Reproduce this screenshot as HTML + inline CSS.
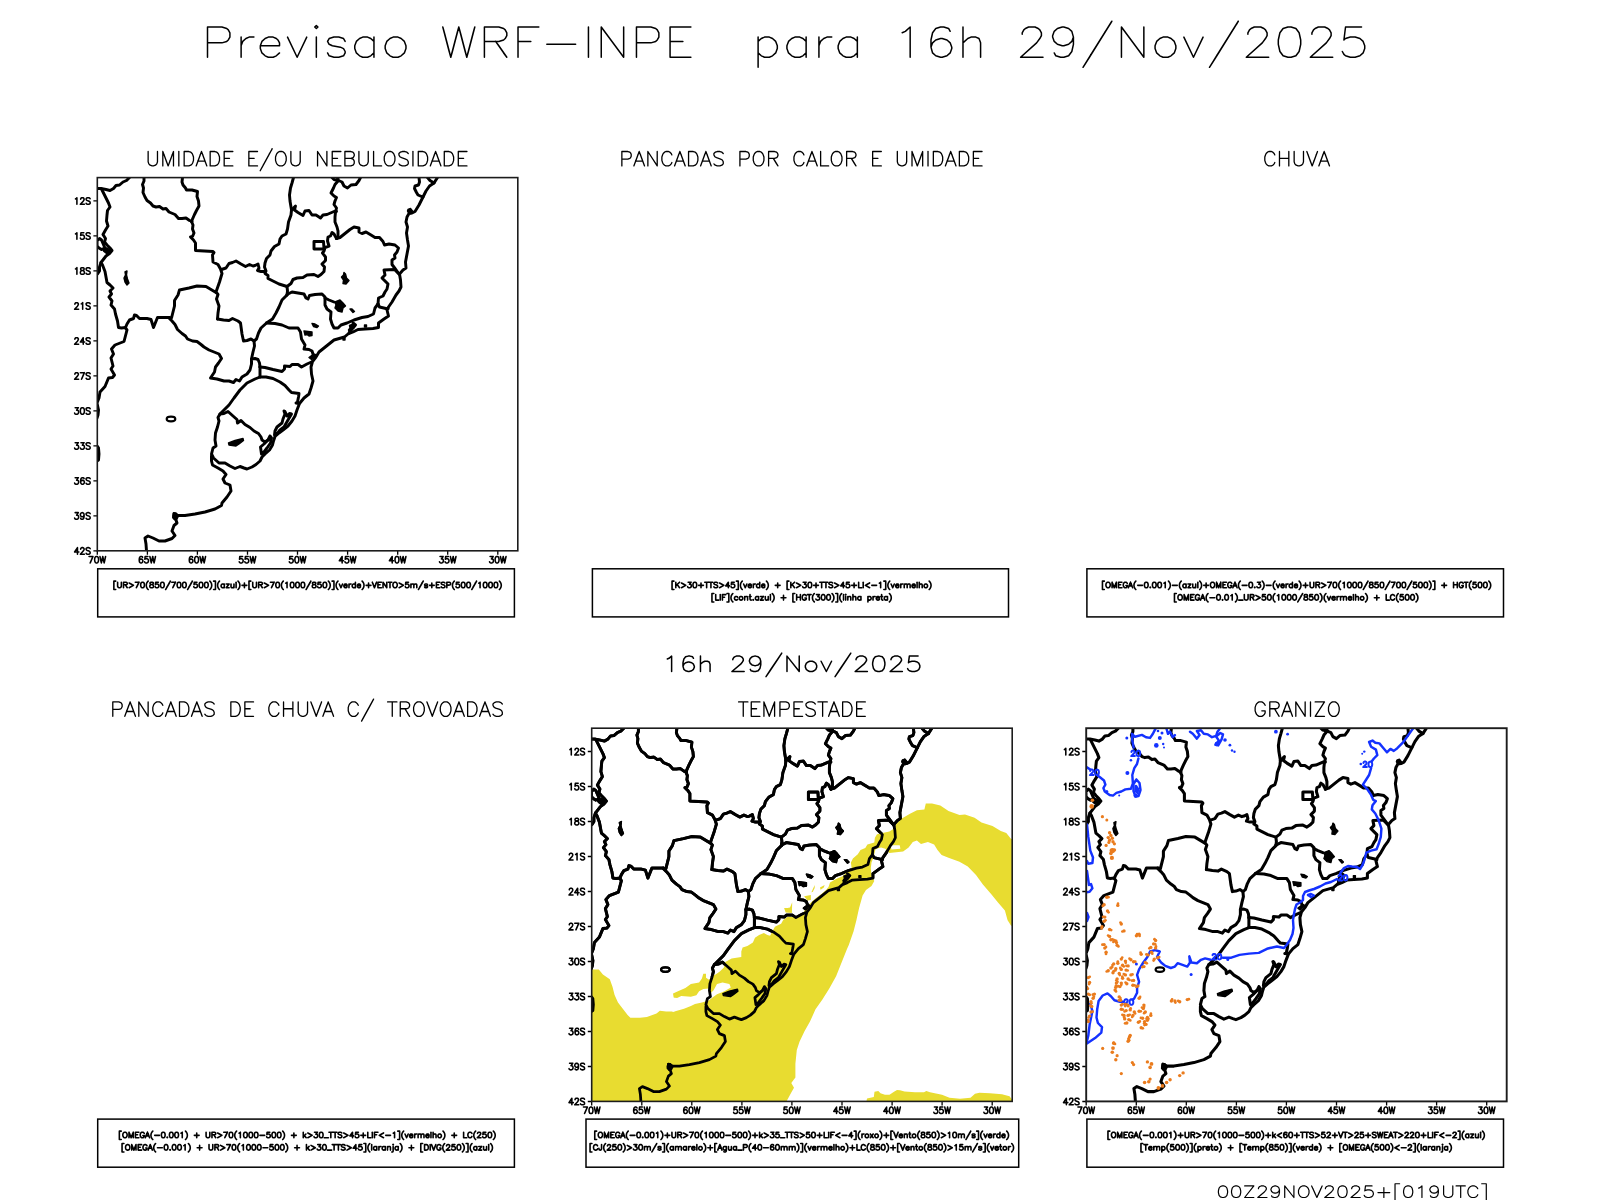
<!DOCTYPE html>
<html><head><meta charset="utf-8"><title>Previsao WRF-INPE</title>
<style>
html,body{margin:0;padding:0;background:#fff;font-family:"Liberation Sans",sans-serif}
svg{display:block}
.ht{fill:none;stroke-linecap:round;stroke-linejoin:round}
defs path{vector-effect:non-scaling-stroke}
</style></head><body>
<svg width="1600" height="1200" viewBox="0 0 1600 1200">
<defs>
<clipPath id="clip1"><rect x="97.3" y="177.6" width="420.5" height="373.2"/></clipPath>
<g id="map" fill="none" stroke="#000" stroke-linejoin="round" stroke-linecap="round">
<polyline points="96.5,188.5 101,188.5 106,189.5 110,190.5 113.5,188.5 116,185.5 119.5,185 123,182 126.5,180.5 129.5,177.5"/>
<polyline points="101.5,189 105,196 108.5,203 110,207 107.5,210.5 107,215 106.5,221 108,226 105.5,230 103,234.5 105.5,238.5 104.5,242 107,245 110,248 112,250.5 109.5,253.5 106,256 101,262.5 102.5,265 105,271.5 106,277 107,282.5 110,285 113,288 110,291 111.5,294 109,297 112,301 111,305 114.5,309 115.5,314 117.5,321 118.5,327.5 121.5,328 125.5,327.5"/>
<polyline points="101,262.5 99.5,267 99.5,271 97.5,274 96.5,274.5"/>
<polyline points="144,177.5 144,181 142.5,184.5 143.5,188 143,192.5 145,197 147,200.5 150.5,203 153,206 156,207 159.5,206.5 163,209 166,208.5 169,212 175,214.5 178.5,218.5 182,218.5 186,218 189.5,220.5 192,221.5"/>
<polyline points="182.5,177.5 182,182 183,185 185.5,188 186.5,190 192,190 197.5,191.5 197,196.5 198.5,201 199,206 196.5,210.5 194.5,214.5 192.5,219 191.5,221.5"/>
<polyline points="191.5,221.5 193,225 192.5,229 194,233 192.5,236.5 190.5,237 193.5,240 195.5,243 195.5,250.5 213,251.5 214,252.5 212.5,255 213,262 218,264.5 220.5,269 222,273.5 219.5,282 216,292 218,294.5 216.5,299 219,306 218,313 217.5,319"/>
<polyline points="221.5,269.5 226,268 229,263.5 232.5,262.5 236,261 241,264 245.5,266.5 249.5,264.5 253,266 255,265.5 258,264 259,268 257.5,270.5 261,271.5 264.5,271.5"/>
<polyline points="216,292.5 206,286.5 197,286 189,288 179.5,290 178,295 174.5,300.5 174.5,306 171.5,318 169,317.5"/>
<polyline points="293.5,177.5 292,183 290.5,188 289.5,195 290,201 291,207 291.5,210 291,215 288.5,222 287.5,229 286,234 282,236 280,239 279,244 274.5,246.5 271,251 270,255 266.5,258.5 265,263 264.5,267 266,271 265,273.5 268,275.5 268,278.5 273,281 279,284 287,286.5"/>
<polyline points="291.5,210 295.5,206 294.5,210 298,212.5 303,215.5 305,211 309,210.5 312,215 316,215 320.5,218 323,215 327,214.5 334,211.5 336.5,211.5"/>
<polyline points="332,177.5 334,179.5 338,180.5 338,177.5"/>
<polyline points="338,181 335,184.5 333.5,188 331,193 334,196 336.5,197.5 335,201 334,204.5 336.5,208 335.5,212 335,217 335,222 337,227 338,231 338,236 336.5,238.5"/>
<polyline points="338.5,180.5 342,182 344,186 347.5,188 351,185 356,184.5 359,180.5 360.5,177.5"/>
<polyline points="336.5,238.5 334,234 332,232.5 330.5,236 328,237 327.5,241 329,246 325,247.5 324,251 322.5,253 325.5,257 325.5,260.5 322,264 324.5,267 324,271.5 321,274.5 318,276.5 314,274.5 307,275 303,277.5 297,278 293,279.5 291,283.5 287,286.5 287.5,291 287,295"/>
<polyline points="314,241.5 323.5,241.5 324,249 314,249 314,241.5"/>
<polyline points="336.5,238.5 340,237.5 345,233.5 350,229.5 354,227 359,228 359,232 362,233.5 366,232 371,235 375,237.5 379.5,237.5 383,241.5 384.5,245 389,244 395,245 398.5,248 397,252 394.5,255 395,258 392,260 392,264.5 395,268.5 399,274"/>
<polyline points="399,274 394.5,269.5 384,270 385,275 382,278 385,281 388,284 387,289 385,292 383,296 378.5,298 378,304"/>
<polyline points="378,304 379.5,307 388,309"/>
<polyline points="437.5,177.5 434,183 429.5,186 426,191 423,197 419,205 415,211.5 412,213 409,213.5 407,217 406,222 407.5,227 406.5,233 407.5,240 408.5,246 407,254 405.5,262 406,268 403,270 399.5,274 400.5,280 401,287 399,291 396,295 392,302 388.5,307 387,310 388.5,316 384,319 378.5,323 378.5,327.5 373,328.5 365,329 358,329.5 353,332 348,334 344.5,337 341,338 334,340 329,344 324,348 319,352 316,357 312.5,361.5 311,367 311.5,374 313,381 311,388 309,394 304,398 299.5,403.5 297,410 295,416 292,421 288,426 283,430 279,433 275,436.5 273.5,441 272.5,445 269.5,450 265,454 262,457 260,461 256,464.5 252,467 247,469 244,468 240,466.5 235,468.5 230,466 225,463 219,463 213.5,458 211.5,454 213,448 216,446 215,440 215.5,433 217.5,427 219,421 218,417.5 220,414 224,410 229,405 234,398 240,390 247,383 255,379 260,377"/>
<polyline points="419,177.5 419.5,182 418.5,185 415,186 414.5,188.5 416.5,192.5 418,195 421.5,196.5 423,197"/>
<polyline points="427.5,177.5 430,180.5 434,183"/>
<polyline points="125.5,328 127,330 124,341.5 115,345 111.5,349 113.5,354 111,358 113,366 111,369 114.5,375 112.5,377.5 108.5,378 105,386.5 100,392 99,398 97,403 98.5,410 98,415 97,418"/>
<polyline points="97,446 98.5,448 99,454 98.5,460 97,461"/>
<polyline points="125.5,327.5 127,324 129.5,320 133.5,318.5 134.5,315 136.5,315.5 139.5,318.5 147,318.5 151,319.5 153.5,327.5 157.5,317.5 169,317.5"/>
<polyline points="169,318 172,321 175,324.5 177.5,329.5 182,333.5 185.5,336 187.5,339 192.5,341 197,341.5 201,344.5 204,347 209,350 214,352 219,354 221.5,358.5 218.5,363 215.5,367 214.5,372 210.5,378 217,379 224,381 229,381 233.5,382.5 236,379.5 239.5,381 242,377 247,374 250,370 251.5,364 251.5,359 255,358.5 258,359.5 259.5,363 260,367"/>
<polyline points="217.5,319 223.5,320 229,320.5 232.5,318.5 238,321 240.5,323 242,334 243.5,341 247,340.5 251,339 254,341 254.5,346 253,352 251.5,359"/>
<polyline points="287,295 282,300 279,307 276,313 272.5,319 266.5,323 261,328 258.5,333 256.5,339 254,341"/>
<polyline points="287,294.5 292,292 298,293 304,294 306,298 308,299 309.5,295.5 315,294.5 322,294 325,297 325,305 327,309 331,312 330.5,319 332,324 334,328 338,328 341,325 347,323 354,320 362,317.5 368,316.5 373.5,314 375,308 378,304"/>
<polyline points="325,298 329,300 334,302"/>
<polyline points="353,323 355.5,325 352,329 349,333"/>
<polyline points="266.5,323 275,323.5 282,325 289,328 298,328 300.5,332 301.5,339 305,345 304,349 309,349.5 312,351 313,354 316,356"/>
<polyline points="260,367 265,367.5 273,369.5 282,371.5 284.5,369 284.5,366 290,366.5 292,364.5 298,364.5 301.5,367 307,364 311.5,362"/>
<polyline points="260,367 260,377"/>
<polyline points="260,377 266,377 273,378.5 280,382 285,385.5 289,390 291.5,392.5 299,393.5 298.5,397 297.5,402 296,403 299,403.5"/>
<polyline points="220,414 224,413.5 228,411.5 233,416 237,419.5 237.5,423 241,420.5 245,424.5 250,427.5 254,431 258.5,433.5 261,437 262,440 265,442 268,440"/>
<polyline points="211.5,456 211.5,461 212.5,465 218,468 223,471 226,474.5 223,479 225,483 230,485 231,491 227,497 222,503 221.5,505.5 215,509 205,512 195,514 185,515.5 178,515.5 174,513.5 173.5,517.5 176,520 177,523 174,525.5 172,531 175,535.5 172,538.5 165,541 159,541 153,538 148,536 145,538 146,544 146.5,551"/>
<polyline points="284,411 285,414 283,419 282,423 277,427 275,431 274.5,435 277,434 280,430 284,427 288,420 291.5,414 289.5,413.5 287,416 285,411.5"/>
<polyline points="270,436 268,440 264,444 260.5,447 261.5,454 264,452 267,448 270.5,443 271.5,438 270,436"/>
<polyline points="101.5,249.5 99,248 97,246 97,241 99.5,238.5 101.5,240 103,243.5 104.5,247"/>
<ellipse cx="171" cy="419" rx="4.3" ry="2.3" style="stroke-width:2.2"/>
<g fill="#000" style="stroke-width:1.4">
<polygon points="102,248.5 105,247.5 108,248.5 111,250.5 109.5,253 106.5,253.5 104,251.5"/>
<polygon points="125,272 127,271 126.5,275 127.5,279 129,283 127,285 125,282 124,278 125.5,275"/>
<polygon points="344,272.5 345.5,274 346.5,278 349,280.5 346,284 343,283.5 343.5,280 341.5,277 343.5,275"/>
<polygon points="335,302 340,300 343,303 345.5,306 343,308 342,312 338,311 335,308 336,305"/>
<polygon points="350,309 352,309 354.5,311.5 353,312.5"/>
<polygon points="312,323.5 315,324 318.5,326 317,327.5 313.5,326.5"/>
<polygon points="304,331 312,332 312,335.5 309,336 307,334.5 305,335"/>
<polygon points="228.5,443 235,440.5 243,438.5 243.5,440.5 239,444 236,446 229,445"/>
<polygon points="173.5,513 176,513 178.5,516 177,519 174.5,519.5 173,516"/>
<polygon points="408,209.5 410.5,208.5 412.5,211 411,213.5 408.5,213 407.5,211"/>
<polygon points="349.5,325.5 352,324.5 355.5,325.5 354,328 351,330 349.5,332.5 348.5,330 350,328"/>
<polygon points="309,357.5 313,354.5 315,355.5 311.5,359.5"/>
<polygon points="364.5,325 366.5,325 366.5,327 364.5,327"/>
<polygon points="343,338 345,338 345,340 343,340"/>
</g></g>
<path id="h40" d="M11 -25 9 -23 7 -20 5 -16 4 -11 4 -7 5 -2 7 2 9 5 11 7"/>
<path id="h41" d="M3 -25 5 -23 7 -20 9 -16 10 -11 10 -7 9 -2 7 2 5 5 3 7"/>
<path id="h43" d="M4 -9 22 -9M13 -18 13 0"/>
<path id="h45" d="M4 -9 22 -9"/>
<path id="h46" d="M4 -1 5 -2 6 -1 5 0 4 -1"/>
<path id="h47" d="M2 7 6 0 7 -2 2 7 15 -16 6 0 16 -18 2 7 20 -25 6 0M7 -2 15 -16 16 -18 7 -2 20 -25 15 -16M10 -7 11 -9M16 -18 20 -25 19 -23"/>
<path id="h48" d="M3 -12 3 -9 4 -4 6 -1 9 0 11 0 14 -1 16 -4 17 -9 17 -12 16 -17 14 -20 11 -21 9 -21 6 -20 4 -17 3 -12"/>
<path id="h49" d="M6 -17 8 -18 11 -21 11 0"/>
<path id="h50" d="M4 -16 4 -17 5 -19 6 -20 8 -21 12 -21 14 -20 15 -19 16 -17 16 -15 15 -13 13 -10 3 0 17 0"/>
<path id="h51" d="M3 -4 4 -2 5 -1 8 0 11 0 14 -1 16 -3 17 -6 17 -8 16 -11 15 -12 13 -13 10 -13 16 -21 5 -21"/>
<path id="h52" d="M13 0 13 -21 3 -7 18 -7"/>
<path id="h53" d="M3 -4 4 -2 5 -1 8 0 11 0 14 -1 16 -3 17 -6 17 -8 16 -11 14 -13 11 -14 8 -14 5 -13 4 -12 5 -21 15 -21"/>
<path id="h54" d="M4 -7 4 -12 5 -17 7 -20 10 -21 12 -21 15 -20 16 -18M4 -7 5 -10 7 -12 10 -13 11 -13 14 -12 16 -10 17 -7 17 -6 16 -3 14 -1 11 0 10 0 7 -1 5 -3 4 -7"/>
<path id="h55" d="M3 -21 17 -21 7 0 9 -4 15 -17 7 0 16 -19 8 -2 15 -17M8 -2 17 -21 9 -4 16 -19 17 -21"/>
<path id="h56" d="M3 -7 3 -4 4 -2 5 -1 8 0 12 0 15 -1 16 -2 17 -4 17 -7 16 -9 14 -11 11 -12 7 -13 5 -14 4 -16 4 -18 5 -20 8 -21 12 -21 15 -20 16 -18 16 -16 15 -14 13 -13 9 -12 6 -11 4 -9 3 -7"/>
<path id="h57" d="M4 -3 5 -1 8 0 10 0 13 -1 15 -4 16 -9 16 -14 15 -18 13 -20 10 -21 9 -21 6 -20 4 -18 3 -15 3 -14 4 -11 6 -9 9 -8 10 -8 13 -9 15 -11 16 -14"/>
<path id="h60" d="M11 -13 4 -9 11 -5 13 -4 4 -9 13 -14 11 -13 20 -18 4 -9 20 0 11 -5M13 -14 20 -18 18 -17M13 -4 20 0 18 -1"/>
<path id="h62" d="M4 -18 11 -14 13 -13 4 -18 20 -9 4 0 11 -4 13 -5 4 0M11 -14 20 -9 11 -4M13 -13 20 -9 13 -5M18 -10 20 -9 18 -8"/>
<path id="h65" d="M1 0 4 -8 3 -5 7 -16 6 -13 1 0 9 -21 3 -5M4 -7 14 -7M6 -13 4 -8 9 -21 12 -13 11 -16 15 -5 14 -8 9 -21 17 0 11 -16M14 -8 12 -13 17 0"/>
<path id="h66" d="M4 -11 13 -11 16 -12 17 -13 18 -15 18 -17 17 -19 16 -20 13 -21 4 -21 4 0 13 0 16 -1 17 -2 18 -4 18 -7 17 -9 16 -10 13 -11"/>
<path id="h67" d="M18 -16 17 -18 15 -20 13 -21 9 -21 7 -20 5 -18 4 -16 3 -13 3 -8 4 -5 5 -3 7 -1 9 0 13 0 15 -1 17 -3 18 -5"/>
<path id="h68" d="M4 -21 4 0 11 0 14 -1 16 -3 17 -5 18 -8 18 -13 17 -16 16 -18 14 -20 11 -21 4 -21"/>
<path id="h69" d="M4 -11 12 -11M17 -21 4 -21 4 0 17 0"/>
<path id="h70" d="M4 -11 12 -11M4 0 4 -21 17 -21"/>
<path id="h71" d="M13 -8 18 -8 18 -5 17 -3 15 -1 13 0 9 0 7 -1 5 -3 4 -5 3 -8 3 -13 4 -16 5 -18 7 -20 9 -21 13 -21 15 -20 17 -18 18 -16"/>
<path id="h72" d="M4 -21 4 0M4 -11 18 -11M18 -21 18 0"/>
<path id="h73" d="M4 -21 4 0"/>
<path id="h74" d="M2 -7 2 -5 3 -2 4 -1 6 0 8 0 10 -1 11 -2 12 -5 12 -21"/>
<path id="h75" d="M4 -21 4 0M4 -7 18 -21M9 -12 18 0"/>
<path id="h76" d="M4 -21 4 0 16 0"/>
<path id="h77" d="M4 0 4 -21 7 -13 6 -16 10 -5 9 -8 4 -21 12 0 6 -16M9 -8 7 -13 12 0 15 -8 14 -5 18 -16 17 -13 12 0 20 -21 14 -5M17 -13 15 -8 20 -21 20 0"/>
<path id="h78" d="M4 0 4 -21 18 0 18 -21"/>
<path id="h79" d="M3 -13 3 -8 4 -5 5 -3 7 -1 9 0 13 0 15 -1 17 -3 18 -5 19 -8 19 -13 18 -16 17 -18 15 -20 13 -21 9 -21 7 -20 5 -18 4 -16 3 -13"/>
<path id="h80" d="M4 -10 13 -10 16 -11 17 -12 18 -14 18 -17 17 -19 16 -20 13 -21 4 -21 4 0"/>
<path id="h82" d="M4 -11 13 -11 16 -12 17 -13 18 -15 18 -17 17 -19 16 -20 13 -21 4 -21 4 0M11 -11 13 -8 16 -3 11 -11 18 0 13 -8M16 -3 18 0"/>
<path id="h83" d="M3 -3 5 -1 8 0 12 0 15 -1 17 -3 17 -6 16 -8 15 -9 13 -10 7 -12 5 -13 4 -14 3 -16 3 -18 5 -20 8 -21 12 -21 15 -20 17 -18"/>
<path id="h84" d="M1 -21 15 -21M8 -21 8 0"/>
<path id="h85" d="M4 -21 4 -6 5 -3 7 -1 10 0 12 0 15 -1 17 -3 18 -6 18 -21"/>
<path id="h86" d="M1 -21 4 -13 3 -16 7 -5 6 -8 1 -21 9 0 3 -16M6 -8 4 -13 9 0 12 -8 11 -5 15 -16 14 -13 9 0 17 -21 11 -5M14 -13 12 -8 17 -21"/>
<path id="h87" d="M2 -21 3 -17 6 -4 2 -21 7 0 3 -17M6 -4 7 0 8 -4 11 -17 7 0 12 -21 8 -4M11 -17 12 -21 13 -17 16 -4 12 -21 17 0 13 -17M16 -4 17 0 18 -4 21 -17 17 0 22 -21 18 -4M21 -17 22 -21"/>
<path id="h90" d="M3 -21 17 -21 3 0 17 0"/>
<path id="h91" d="M11 -25 4 -25 4 7 11 7"/>
<path id="h93" d="M3 -25 10 -25 10 7 3 7"/>
<path id="h95" d="M1 0 17 0"/>
<path id="h97" d="M15 -14 15 0M15 -11 13 -13 11 -14 8 -14 6 -13 4 -11 3 -8 3 -6 4 -3 6 -1 8 0 11 0 13 -1 15 -3"/>
<path id="h99" d="M15 -11 13 -13 11 -14 8 -14 6 -13 4 -11 3 -8 3 -6 4 -3 6 -1 8 0 11 0 13 -1 15 -3"/>
<path id="h100" d="M15 -21 15 0M15 -11 13 -13 11 -14 8 -14 6 -13 4 -11 3 -8 3 -6 4 -3 6 -1 8 0 11 0 13 -1 15 -3"/>
<path id="h101" d="M3 -8 3 -6 4 -3 6 -1 8 0 11 0 13 -1 15 -3M3 -8 4 -11 6 -13 8 -14 11 -14 13 -13 14 -12 15 -10 15 -8 3 -8"/>
<path id="h103" d="M6 6 8 7 11 7 13 6 14 5 15 2 15 -14M15 -11 13 -13 11 -14 8 -14 6 -13 4 -11 3 -8 3 -6 4 -3 6 -1 8 0 11 0 13 -1 15 -3"/>
<path id="h104" d="M4 -21 4 0M4 -10 7 -13 9 -14 12 -14 14 -13 15 -10 15 0"/>
<path id="h105" d="M4 -14 4 0M3 -21 4 -22 5 -21 4 -20 3 -21"/>
<path id="h106" d="M1 7 3 7 5 6 6 3 6 -14M5 -21 6 -22 7 -21 6 -20 5 -21"/>
<path id="h107" d="M4 -21 4 0M4 -4 14 -14M8 -8 9 -7 14 -1 8 -8 15 0 14 -1"/>
<path id="h108" d="M4 -21 4 0"/>
<path id="h109" d="M4 -14 4 0M4 -10 7 -13 9 -14 12 -14 14 -13 15 -10 15 0M15 -10 18 -13 20 -14 23 -14 25 -13 26 -10 26 0"/>
<path id="h110" d="M4 -14 4 0M4 -10 7 -13 9 -14 12 -14 14 -13 15 -10 15 0"/>
<path id="h111" d="M3 -8 3 -6 4 -3 6 -1 8 0 11 0 13 -1 15 -3 16 -6 16 -8 15 -11 13 -13 11 -14 8 -14 6 -13 4 -11 3 -8"/>
<path id="h112" d="M4 -14 4 7M4 -11 6 -13 8 -14 11 -14 13 -13 15 -11 16 -8 16 -6 15 -3 13 -1 11 0 8 0 6 -1 4 -3"/>
<path id="h114" d="M4 -14 4 0M4 -8 5 -11 7 -13 9 -14 12 -14"/>
<path id="h115" d="M3 -3 4 -1 7 0 10 0 13 -1 14 -3 14 -4 13 -6 11 -7 6 -8 4 -9 3 -11 4 -13 7 -14 10 -14 13 -13 14 -11"/>
<path id="h116" d="M2 -14 9 -14M5 -21 5 -4 6 -1 8 0 10 0"/>
<path id="h117" d="M4 -14 4 -4 5 -1 7 0 10 0 12 -1 15 -4M15 -14 15 0"/>
<path id="h118" d="M2 -14 8 0 14 -14"/>
<path id="h120" d="M3 -14 7 -9 6 -10M3 -14 10 -5 7 -9 14 0 3 -14M3 0 7 -5 10 -9 3 0 14 -14 7 -5M10 -5 14 0M11 -10 10 -9 14 -14"/>
<path id="h122" d="M3 -14 14 -14 3 0 7 -5 10 -9 3 0 14 0M7 -5 14 -14 10 -9 11 -10"/>
</defs>
<rect width="1600" height="1200" fill="#fff"/>
<g class="ht" transform="translate(201.10 57.25) scale(1.6006 1.4400)" stroke="#000" stroke-width="1.50"><use href="#h80" x="0"/><use href="#h114" x="21"/><use href="#h101" x="34"/><use href="#h118" x="52"/><use href="#h105" x="68"/><use href="#h115" x="76"/><use href="#h97" x="93"/><use href="#h111" x="112"/><use href="#h87" x="149"/><use href="#h82" x="173"/><use href="#h70" x="194"/><use href="#h45" x="212"/><use href="#h73" x="238"/><use href="#h78" x="246"/><use href="#h80" x="268"/><use href="#h69" x="289"/><use href="#h112" x="344"/><use href="#h97" x="363"/><use href="#h114" x="382"/><use href="#h97" x="395"/><use href="#h49" x="432"/><use href="#h54" x="452"/><use href="#h104" x="472"/><use href="#h50" x="509"/><use href="#h57" x="529"/><use href="#h47" x="549"/><use href="#h78" x="571"/><use href="#h111" x="593"/><use href="#h118" x="612"/><use href="#h47" x="628"/><use href="#h50" x="650"/><use href="#h48" x="670"/><use href="#h50" x="690"/><use href="#h53" x="710"/></g>
<g class="ht" transform="translate(662.01 671.50) scale(0.8740 0.7330)" stroke="#000" stroke-width="1.50"><use href="#h49" x="0"/><use href="#h54" x="20"/><use href="#h104" x="40"/><use href="#h50" x="77"/><use href="#h57" x="97"/><use href="#h47" x="117"/><use href="#h78" x="139"/><use href="#h111" x="161"/><use href="#h118" x="180"/><use href="#h47" x="196"/><use href="#h50" x="218"/><use href="#h48" x="238"/><use href="#h50" x="258"/><use href="#h53" x="278"/></g>
<g class="ht" transform="translate(1216.43 1197.50) scale(0.6566 0.5500)" stroke="#000" stroke-width="1.20"><use href="#h48" x="0"/><use href="#h48" x="20"/><use href="#h90" x="40"/><use href="#h50" x="60"/><use href="#h57" x="80"/><use href="#h78" x="100"/><use href="#h79" x="122"/><use href="#h86" x="144"/><use href="#h50" x="162"/><use href="#h48" x="182"/><use href="#h50" x="202"/><use href="#h53" x="222"/><use href="#h43" x="242"/><use href="#h91" x="268"/><use href="#h48" x="282"/><use href="#h49" x="302"/><use href="#h57" x="322"/><use href="#h85" x="342"/><use href="#h84" x="364"/><use href="#h67" x="380"/><use href="#h93" x="401"/></g>
<g class="ht" transform="translate(145.47 165.90) scale(0.6670 0.6850)" stroke="#000" stroke-width="1.30"><use href="#h85" x="0"/><use href="#h77" x="22"/><use href="#h73" x="46"/><use href="#h68" x="54"/><use href="#h65" x="75"/><use href="#h68" x="93"/><use href="#h69" x="114"/><use href="#h69" x="151"/><use href="#h47" x="170"/><use href="#h79" x="192"/><use href="#h85" x="214"/><use href="#h78" x="254"/><use href="#h69" x="276"/><use href="#h66" x="295"/><use href="#h85" x="316"/><use href="#h76" x="338"/><use href="#h79" x="355"/><use href="#h83" x="377"/><use href="#h73" x="397"/><use href="#h68" x="405"/><use href="#h65" x="426"/><use href="#h68" x="444"/><use href="#h69" x="465"/></g>
<g class="ht" transform="translate(619.19 165.90) scale(0.6670 0.6850)" stroke="#000" stroke-width="1.30"><use href="#h80" x="0"/><use href="#h65" x="21"/><use href="#h78" x="39"/><use href="#h67" x="61"/><use href="#h65" x="82"/><use href="#h68" x="100"/><use href="#h65" x="121"/><use href="#h83" x="139"/><use href="#h80" x="177"/><use href="#h79" x="198"/><use href="#h82" x="220"/><use href="#h67" x="259"/><use href="#h65" x="280"/><use href="#h76" x="298"/><use href="#h79" x="315"/><use href="#h82" x="337"/><use href="#h69" x="376"/><use href="#h85" x="413"/><use href="#h77" x="435"/><use href="#h73" x="459"/><use href="#h68" x="467"/><use href="#h65" x="488"/><use href="#h68" x="506"/><use href="#h69" x="527"/></g>
<g class="ht" transform="translate(1262.80 165.90) scale(0.6670 0.6850)" stroke="#000" stroke-width="1.30"><use href="#h67" x="0"/><use href="#h72" x="21"/><use href="#h85" x="43"/><use href="#h86" x="65"/><use href="#h65" x="83"/></g>
<g class="ht" transform="translate(110.12 716.30) scale(0.6670 0.6850)" stroke="#000" stroke-width="1.30"><use href="#h80" x="0"/><use href="#h65" x="21"/><use href="#h78" x="39"/><use href="#h67" x="61"/><use href="#h65" x="82"/><use href="#h68" x="100"/><use href="#h65" x="121"/><use href="#h83" x="139"/><use href="#h68" x="177"/><use href="#h69" x="198"/><use href="#h67" x="235"/><use href="#h72" x="256"/><use href="#h85" x="278"/><use href="#h86" x="300"/><use href="#h65" x="318"/><use href="#h67" x="354"/><use href="#h47" x="375"/><use href="#h84" x="415"/><use href="#h82" x="431"/><use href="#h79" x="452"/><use href="#h86" x="474"/><use href="#h79" x="492"/><use href="#h65" x="514"/><use href="#h68" x="532"/><use href="#h65" x="553"/><use href="#h83" x="571"/></g>
<g class="ht" transform="translate(737.92 716.30) scale(0.6670 0.6850)" stroke="#000" stroke-width="1.30"><use href="#h84" x="0"/><use href="#h69" x="16"/><use href="#h77" x="35"/><use href="#h80" x="59"/><use href="#h69" x="80"/><use href="#h83" x="99"/><use href="#h84" x="119"/><use href="#h65" x="135"/><use href="#h68" x="153"/><use href="#h69" x="174"/></g>
<g class="ht" transform="translate(1253.13 716.30) scale(0.6670 0.6850)" stroke="#000" stroke-width="1.30"><use href="#h71" x="0"/><use href="#h82" x="21"/><use href="#h65" x="42"/><use href="#h78" x="60"/><use href="#h73" x="82"/><use href="#h90" x="90"/><use href="#h79" x="110"/></g>
<g clip-path="url(#clip1)" stroke-width="2.95"><use href="#map"/></g>
<g class="ht" transform="translate(73.73 204.33) scale(0.2880 0.3150)" stroke="#000" stroke-width="1.55"><use href="#h49" x="0"/><use href="#h50" x="20"/><use href="#h83" x="40"/></g>
<g class="ht" transform="translate(73.73 239.32) scale(0.2880 0.3150)" stroke="#000" stroke-width="1.55"><use href="#h49" x="0"/><use href="#h53" x="20"/><use href="#h83" x="40"/></g>
<g class="ht" transform="translate(73.73 274.31) scale(0.2880 0.3150)" stroke="#000" stroke-width="1.55"><use href="#h49" x="0"/><use href="#h56" x="20"/><use href="#h83" x="40"/></g>
<g class="ht" transform="translate(73.73 309.30) scale(0.2880 0.3150)" stroke="#000" stroke-width="1.55"><use href="#h50" x="0"/><use href="#h49" x="20"/><use href="#h83" x="40"/></g>
<g class="ht" transform="translate(73.73 344.30) scale(0.2880 0.3150)" stroke="#000" stroke-width="1.55"><use href="#h50" x="0"/><use href="#h52" x="20"/><use href="#h83" x="40"/></g>
<g class="ht" transform="translate(73.73 379.29) scale(0.2880 0.3150)" stroke="#000" stroke-width="1.55"><use href="#h50" x="0"/><use href="#h55" x="20"/><use href="#h83" x="40"/></g>
<g class="ht" transform="translate(73.73 414.28) scale(0.2880 0.3150)" stroke="#000" stroke-width="1.55"><use href="#h51" x="0"/><use href="#h48" x="20"/><use href="#h83" x="40"/></g>
<g class="ht" transform="translate(73.73 449.27) scale(0.2880 0.3150)" stroke="#000" stroke-width="1.55"><use href="#h51" x="0"/><use href="#h51" x="20"/><use href="#h83" x="40"/></g>
<g class="ht" transform="translate(73.73 484.27) scale(0.2880 0.3150)" stroke="#000" stroke-width="1.55"><use href="#h51" x="0"/><use href="#h54" x="20"/><use href="#h83" x="40"/></g>
<g class="ht" transform="translate(73.73 519.26) scale(0.2880 0.3150)" stroke="#000" stroke-width="1.55"><use href="#h51" x="0"/><use href="#h57" x="20"/><use href="#h83" x="40"/></g>
<g class="ht" transform="translate(73.73 554.25) scale(0.2880 0.3150)" stroke="#000" stroke-width="1.55"><use href="#h52" x="0"/><use href="#h50" x="20"/><use href="#h83" x="40"/></g>
<g class="ht" transform="translate(88.20 562.95) scale(0.2800 0.3080)" stroke="#000" stroke-width="1.55"><use href="#h55" x="0"/><use href="#h48" x="20"/><use href="#h87" x="40"/></g>
<g class="ht" transform="translate(138.12 562.95) scale(0.2800 0.3080)" stroke="#000" stroke-width="1.55"><use href="#h54" x="0"/><use href="#h53" x="20"/><use href="#h87" x="40"/></g>
<g class="ht" transform="translate(188.18 562.95) scale(0.2800 0.3080)" stroke="#000" stroke-width="1.55"><use href="#h54" x="0"/><use href="#h48" x="20"/><use href="#h87" x="40"/></g>
<g class="ht" transform="translate(238.38 562.95) scale(0.2800 0.3080)" stroke="#000" stroke-width="1.55"><use href="#h53" x="0"/><use href="#h53" x="20"/><use href="#h87" x="40"/></g>
<g class="ht" transform="translate(288.44 562.95) scale(0.2800 0.3080)" stroke="#000" stroke-width="1.55"><use href="#h53" x="0"/><use href="#h48" x="20"/><use href="#h87" x="40"/></g>
<g class="ht" transform="translate(338.50 562.95) scale(0.2800 0.3080)" stroke="#000" stroke-width="1.55"><use href="#h52" x="0"/><use href="#h53" x="20"/><use href="#h87" x="40"/></g>
<g class="ht" transform="translate(388.56 562.95) scale(0.2800 0.3080)" stroke="#000" stroke-width="1.55"><use href="#h52" x="0"/><use href="#h48" x="20"/><use href="#h87" x="40"/></g>
<g class="ht" transform="translate(438.62 562.95) scale(0.2800 0.3080)" stroke="#000" stroke-width="1.55"><use href="#h51" x="0"/><use href="#h53" x="20"/><use href="#h87" x="40"/></g>
<g class="ht" transform="translate(488.68 562.95) scale(0.2800 0.3080)" stroke="#000" stroke-width="1.55"><use href="#h51" x="0"/><use href="#h48" x="20"/><use href="#h87" x="40"/></g>
<path d="M93.4 200.9H97.3M93.4 235.9H97.3M93.4 270.9H97.3M93.4 305.9H97.3M93.4 340.9H97.3M93.4 375.9H97.3M93.4 410.9H97.3M93.4 445.9H97.3M93.4 480.9H97.3M93.4 515.9H97.3M93.4 550.9H97.3M97.3 550.9V554.8M147.4 550.9V554.8M197.4 550.9V554.8M247.5 550.9V554.8M297.5 550.9V554.8M347.6 550.9V554.8M397.7 550.9V554.8M447.7 550.9V554.8M497.8 550.9V554.8" stroke="#000" stroke-width="1.3" fill="none"/>
<rect x="97.3" y="177.6" width="420.5" height="373.2" fill="none" stroke="#1c1c1c" stroke-width="1.60"/>
<g transform="translate(494.4 550.6)"><g clip-path="url(#clip1)">
<use href="#map" stroke-width="3.0"/>
<g stroke="none">
<polygon fill="#e8dc30" points="95.6,419.0 104.4,419.0 108.5,423.8 115.4,428.6 118.1,436.2 120.2,444.4 123.6,452.0 128.4,458.2 133.2,464.3 136.0,467.1 145.6,467.1 152.5,466.4 162.1,463.0 165.5,460.2 171.7,460.9 180.0,460.9 179.3,447.2 178.6,443.0 184.1,440.3 191.0,437.5 196.5,433.4 204.7,432.0 207.5,427.9 208.9,423.1 211.6,423.1 211.6,427.2 215.0,429.3 217.8,425.2 221.2,423.8 225.4,421.0 229.5,416.9 230.9,411.4 237.2,407.8 246.9,406.4 246.9,400.9 248.2,396.8 253.0,395.4 258.5,392.0 260.6,387.2 264.7,384.4 269.5,382.3 273.0,384.4 275.7,385.1 277.1,382.3 280.5,376.2 286.7,373.1 288.8,369.3 293.6,365.8 301.9,366.8 308.7,362.4 311.6,357.4 314.1,354.4 317.6,350.9 321.6,347.4 327.1,343.4 331.6,339.4 334.1,336.4 335.6,331.9 341.6,328.4 348.1,325.7 352.6,321.4 357.2,317.4 356.5,311.9 358.5,307.8 363.4,303.7 366.1,299.5 370.9,297.5 373.0,294.0 379.9,292.0 380.5,287.2 382.6,283.7 388.1,282.3 395.0,281.0 400.5,277.5 401.9,273.4 407.4,267.9 415.6,263.1 422.5,259.7 430.0,259.0 431.4,252.8 437.6,252.8 445.9,254.8 454.1,260.3 465.1,264.5 470.6,263.8 480.2,267.2 487.1,272.0 498.1,275.5 506.4,280.3 511.9,282.3 516.7,288.5 519.6,288.4 519.6,375.2 516.7,375.2 513.2,369.7 510.5,360.0 503.6,351.8 496.7,343.5 488.5,333.9 481.6,324.3 473.4,316.0 465.1,311.2 454.1,307.1 447.2,304.3 443.1,299.5 439.7,294.0 433.5,291.3 426.6,293.3 422.5,289.9 418.4,291.3 414.2,296.8 408.7,300.9 401.9,301.6 395.0,302.3 390.9,298.2 386.7,296.8 381.2,298.2 379.2,306.4 377.1,311.9 376.4,317.4 377.1,325.7 379.9,330.5 377.1,335.3 371.6,339.4 368.2,344.9 364.7,357.3 362.0,369.7 359.2,380.7 354.4,394.4 352.7,398.2 347.2,411.9 341.7,425.7 334.9,438.0 328.0,449.0 321.1,458.7 315.6,471.0 310.1,480.7 305.1,491.2 302.4,499.4 301.0,513.2 301.0,526.9 296.9,532.4 299.6,537.2 296.9,542.0 292.7,549.6 292.6,552.4 95.6,552.4"/>
<polygon fill="#e8dc30" points="371.9,551.4 372.6,547.9 379.4,546.4 380.1,541.2 383.9,540.4 386.1,542.7 390.6,544.2 395.1,544.2 399.6,541.2 402.6,539.4 405.6,539.7 410.1,540.9 420.6,541.6 429.6,541.6 431.9,540.4 435.6,541.6 447.6,544.2 455.1,547.2 465.6,548.2 476.1,547.2 480.6,543.1 485.1,542.2 495.6,542.7 507.6,543.7 515.1,545.7 518.6,550.2 518.6,552.4"/>
<polygon fill="#e8dc30" points="289.7,357.5 293.1,357.5 295.6,356.9 297.8,351.6 297.5,362.5 291.2,361.9"/>
<polygon fill="#e8dc30" points="309.7,345.7 316.5,344.4 316.5,349.4 313.1,350.0"/>
<polygon fill="#e8dc30" points="320.3,334.4 316.9,341.9 318.7,340.7 320.3,337.5"/>
<polygon fill="#e8dc30" points="325.6,336.9 330.3,334.4 329.4,336.9 326.2,339.1"/>
<polygon fill="#fff" points="178.1,461.4 178.1,447.0 182.7,447.4 186.9,445.4 196.5,446.1 202.0,444.7 204.7,440.6 208.9,438.5 214.4,437.8 216.4,442.3 219.2,439.6 222.6,433.4 228.1,432.0 235.0,433.4 236.4,436.8 229.5,441.0 222.6,443.7 217.8,447.2 214.4,449.9 207.5,452.0 200.6,453.3 196.5,455.4 189.6,458.2 180.0,460.9"/>
<polygon fill="#fff" points="396.4,294.7 405.3,294.7 406.0,298.2 397.0,298.8"/>
</g>
<use href="#map" stroke-width="2.75"/></g></g>
<g class="ht" transform="translate(568.13 754.93) scale(0.2880 0.3150)" stroke="#000" stroke-width="1.55"><use href="#h49" x="0"/><use href="#h50" x="20"/><use href="#h83" x="40"/></g>
<g class="ht" transform="translate(568.13 789.92) scale(0.2880 0.3150)" stroke="#000" stroke-width="1.55"><use href="#h49" x="0"/><use href="#h53" x="20"/><use href="#h83" x="40"/></g>
<g class="ht" transform="translate(568.13 824.91) scale(0.2880 0.3150)" stroke="#000" stroke-width="1.55"><use href="#h49" x="0"/><use href="#h56" x="20"/><use href="#h83" x="40"/></g>
<g class="ht" transform="translate(568.13 859.90) scale(0.2880 0.3150)" stroke="#000" stroke-width="1.55"><use href="#h50" x="0"/><use href="#h49" x="20"/><use href="#h83" x="40"/></g>
<g class="ht" transform="translate(568.13 894.90) scale(0.2880 0.3150)" stroke="#000" stroke-width="1.55"><use href="#h50" x="0"/><use href="#h52" x="20"/><use href="#h83" x="40"/></g>
<g class="ht" transform="translate(568.13 929.89) scale(0.2880 0.3150)" stroke="#000" stroke-width="1.55"><use href="#h50" x="0"/><use href="#h55" x="20"/><use href="#h83" x="40"/></g>
<g class="ht" transform="translate(568.13 964.88) scale(0.2880 0.3150)" stroke="#000" stroke-width="1.55"><use href="#h51" x="0"/><use href="#h48" x="20"/><use href="#h83" x="40"/></g>
<g class="ht" transform="translate(568.13 999.87) scale(0.2880 0.3150)" stroke="#000" stroke-width="1.55"><use href="#h51" x="0"/><use href="#h51" x="20"/><use href="#h83" x="40"/></g>
<g class="ht" transform="translate(568.13 1034.87) scale(0.2880 0.3150)" stroke="#000" stroke-width="1.55"><use href="#h51" x="0"/><use href="#h54" x="20"/><use href="#h83" x="40"/></g>
<g class="ht" transform="translate(568.13 1069.86) scale(0.2880 0.3150)" stroke="#000" stroke-width="1.55"><use href="#h51" x="0"/><use href="#h57" x="20"/><use href="#h83" x="40"/></g>
<g class="ht" transform="translate(568.13 1104.85) scale(0.2880 0.3150)" stroke="#000" stroke-width="1.55"><use href="#h52" x="0"/><use href="#h50" x="20"/><use href="#h83" x="40"/></g>
<g class="ht" transform="translate(582.60 1113.55) scale(0.2800 0.3080)" stroke="#000" stroke-width="1.55"><use href="#h55" x="0"/><use href="#h48" x="20"/><use href="#h87" x="40"/></g>
<g class="ht" transform="translate(632.52 1113.55) scale(0.2800 0.3080)" stroke="#000" stroke-width="1.55"><use href="#h54" x="0"/><use href="#h53" x="20"/><use href="#h87" x="40"/></g>
<g class="ht" transform="translate(682.58 1113.55) scale(0.2800 0.3080)" stroke="#000" stroke-width="1.55"><use href="#h54" x="0"/><use href="#h48" x="20"/><use href="#h87" x="40"/></g>
<g class="ht" transform="translate(732.78 1113.55) scale(0.2800 0.3080)" stroke="#000" stroke-width="1.55"><use href="#h53" x="0"/><use href="#h53" x="20"/><use href="#h87" x="40"/></g>
<g class="ht" transform="translate(782.84 1113.55) scale(0.2800 0.3080)" stroke="#000" stroke-width="1.55"><use href="#h53" x="0"/><use href="#h48" x="20"/><use href="#h87" x="40"/></g>
<g class="ht" transform="translate(832.90 1113.55) scale(0.2800 0.3080)" stroke="#000" stroke-width="1.55"><use href="#h52" x="0"/><use href="#h53" x="20"/><use href="#h87" x="40"/></g>
<g class="ht" transform="translate(882.96 1113.55) scale(0.2800 0.3080)" stroke="#000" stroke-width="1.55"><use href="#h52" x="0"/><use href="#h48" x="20"/><use href="#h87" x="40"/></g>
<g class="ht" transform="translate(933.02 1113.55) scale(0.2800 0.3080)" stroke="#000" stroke-width="1.55"><use href="#h51" x="0"/><use href="#h53" x="20"/><use href="#h87" x="40"/></g>
<g class="ht" transform="translate(983.08 1113.55) scale(0.2800 0.3080)" stroke="#000" stroke-width="1.55"><use href="#h51" x="0"/><use href="#h48" x="20"/><use href="#h87" x="40"/></g>
<path d="M587.8 751.5H591.7M587.8 786.5H591.7M587.8 821.5H591.7M587.8 856.5H591.7M587.8 891.5H591.7M587.8 926.5H591.7M587.8 961.5H591.7M587.8 996.5H591.7M587.8 1031.5H591.7M587.8 1066.5H591.7M587.8 1101.5H591.7M591.7 1101.5V1105.4M641.8 1101.5V1105.4M691.8 1101.5V1105.4M741.9 1101.5V1105.4M791.9 1101.5V1105.4M842.0 1101.5V1105.4M892.1 1101.5V1105.4M942.1 1101.5V1105.4M992.2 1101.5V1105.4" stroke="#000" stroke-width="1.3" fill="none"/>
<rect x="591.7" y="728.2" width="420.5" height="373.2" fill="none" stroke="#1c1c1c" stroke-width="1.60"/>
<g transform="translate(988.9 550.6)"><g clip-path="url(#clip1)"><use href="#map" stroke-width="3.05"/>
<g fill="none" stroke="#1432ff" stroke-width="2.45" stroke-linejoin="round" stroke-linecap="round">
<polyline points="98.0,216.8 101.4,218.9"/>
<polyline points="109.0,225.1 111.7,227.2 115.1,229.9 116.5,234.0 114.5,237.4 115.9,240.9 120.7,244.4 124.1,245.0 127.5,242.3 132.4,240.9 136.5,238.8 142.0,238.2 144.0,232.7 143.4,224.4 145.4,217.5 148.1,213.4 149.5,207.9"/>
<polyline points="144.7,196.9 143.4,190.0 143.1,183.2 146.1,186.2 153.0,184.3 157.1,186.6 161.2,187.3 164.0,183.2 166.1,179.0 167.1,177.4"/>
<polyline points="177.7,178.4 179.1,183.2 181.2,181.1 183.9,186.6 186.0,184.5"/>
<polyline points="201.1,181.1 203.9,183.2 208.0,188.0 210.7,184.5 208.0,180.4 212.1,179.7 214.9,183.2 219.0,183.8 223.1,186.6 227.2,185.2 228.6,181.1 230.7,178.4"/>
<polyline points="227.2,185.9 230.0,190.0 226.5,194.2 229.3,194.8 232.7,188.7 234.1,183.8 231.4,182.4 227.2,185.9"/>
<polyline points="147.5,228.9 150.6,232.4 151.6,239.4 149.6,245.4 146.6,245.9 144.6,240.4 144.6,233.4 147.5,228.9"/>
<polyline points="147.1,235.4 149.1,238.4 148.6,242.4 146.6,240.4 147.1,235.4"/>
<polyline points="98.1,273.9 99.4,286.3 101.4,300.0 104.1,306.9 103.5,312.4 99.4,313.1 98.1,310.4"/>
<polyline points="98.1,320.4 100.1,334.4 102.1,333.4 103.5,337.7 100.7,341.1 97.3,341.8"/>
<polyline points="98.1,362.4 99.6,366.4 98.1,370.4"/>
<polyline points="101.4,453.4 103.5,460.4 100.7,474.2 99.4,485.2 98.1,490.4"/>
<polyline points="424.2,177.7 419.4,184.5 413.9,192.1 408.4,197.6 404.9,200.3 401.5,198.3 398.0,201.7 394.6,197.6 390.5,192.8 386.4,192.1 383.6,190.0 380.2,191.4 382.2,196.2 387.0,199.0 388.4,204.5 385.0,207.9 383.1,210.4"/>
<polyline points="382.2,217.5 380.2,224.4 376.7,229.9 374.0,234.0 378.1,238.2 382.2,244.3 384.3,249.2 387.0,250.5 383.6,254.7 382.9,258.8 386.4,262.9 389.8,269.8 392.5,278.0 391.9,286.3 389.8,293.2 387.7,298.7 382.2,300.0 377.4,302.1 375.4,309.7 373.6,314.4 371.1,318.4 368.1,316.4 363.1,315.9 359.1,315.4 355.1,317.4 352.1,321.4 351.1,323.4"/>
<polyline points="348.1,328.4 342.1,331.4 336.6,332.9 331.1,335.9 325.1,338.4 320.1,339.9 316.1,341.4 314.1,345.4 314.1,349.4 311.1,351.9 307.6,353.9 306.1,358.4 305.1,363.4 304.1,369.4 304.6,377.4 303.6,383.4 301.1,389.4 297.6,394.4 295.1,397.4 288.1,395.9 281.1,397.4 278.1,398.2 269.9,402.3 260.2,403.0 250.6,404.3 242.4,407.1 234.1,407.1"/>
<polyline points="221.7,409.2 216.2,407.8 212.1,409.2 208.0,412.6 202.5,411.9 200.4,405.7 201.1,411.9 198.4,416.0 192.9,414.0 188.7,412.6 186.0,416.0 181.9,417.4 176.4,415.3 172.2,411.9 168.1,406.4 170.9,400.9 166.0,399.5 161.2,400.9 158.5,406.4 154.4,411.9 150.2,418.8 148.2,424.3 150.2,431.2 148.2,436.7 148.2,442.2 145.4,447.7 143.6,449.4"/>
<polyline points="135.1,451.1 131.0,451.1 125.5,449.7 122.0,445.6 118.6,442.8 113.8,444.9 109.7,450.4 108.3,458.7 107.6,466.9 109.0,472.4 113.1,476.5 112.4,482.0 106.2,487.5 98.0,493.0"/>
<polyline points="319.1,344.4 322.1,343.4 325.1,344.9 322.1,346.4 319.1,344.4"/>
</g><g fill="#1432ff" stroke="none">
<circle cx="167.4" cy="194.8" r="2.3"/>
<circle cx="170.9" cy="187.3" r="2.0"/>
<circle cx="174.3" cy="193.4" r="1.2"/>
<circle cx="175.1" cy="196.9" r="1.0"/>
<circle cx="138.5" cy="222.4" r="2.0"/>
<circle cx="137.9" cy="187.3" r="1.5"/>
<circle cx="142.0" cy="209.7" r="1.3"/>
<circle cx="130.3" cy="245.0" r="1.0"/>
<circle cx="117.9" cy="240.9" r="1.5"/>
<circle cx="236.1" cy="189.4" r="1.8"/>
<circle cx="241.0" cy="194.6" r="1.4"/>
<circle cx="243.1" cy="199.9" r="1.2"/>
<circle cx="245.6" cy="201.2" r="1.2"/>
<circle cx="287.0" cy="181.1" r="1.9"/>
<circle cx="298.7" cy="183.6" r="1.4"/>
<circle cx="146.8" cy="245.0" r="2.2"/>
<circle cx="227.9" cy="193.4" r="2.2"/>
<circle cx="147.5" cy="413.3" r="1.5"/>
<circle cx="202.2" cy="424.0" r="1.5"/>
<circle cx="238.9" cy="408.9" r="1.5"/>
<circle cx="375.4" cy="201.0" r="1.2"/>
<circle cx="373.3" cy="203.1" r="1.0"/>
<circle cx="371.9" cy="213.4" r="1.3"/>
<circle cx="173.1" cy="182.4" r="1.5"/>
<circle cx="169.1" cy="180.4" r="1.3"/>
</g>
<g class="ht" transform="translate(100.20 224.50) scale(0.2650 0.2620)" stroke="#1432ff" stroke-width="2.00"><use href="#h50" x="0"/><use href="#h48" x="20"/></g>
<g class="ht" transform="translate(141.50 205.50) scale(0.2650 0.2620)" stroke="#1432ff" stroke-width="2.00"><use href="#h50" x="0"/><use href="#h48" x="20"/></g>
<g class="ht" transform="translate(373.50 216.50) scale(0.2650 0.2620)" stroke="#1432ff" stroke-width="2.00"><use href="#h50" x="0"/><use href="#h48" x="20"/></g>
<g class="ht" transform="translate(348.70 329.80) scale(0.2650 0.2620)" stroke="#1432ff" stroke-width="2.00"><use href="#h50" x="0"/><use href="#h48" x="20"/></g>
<g class="ht" transform="translate(222.60 408.80) scale(0.2650 0.2620)" stroke="#1432ff" stroke-width="2.00"><use href="#h50" x="0"/><use href="#h48" x="20"/></g>
<g class="ht" transform="translate(134.60 454.20) scale(0.2650 0.2620)" stroke="#1432ff" stroke-width="2.00"><use href="#h50" x="0"/><use href="#h48" x="20"/></g>
<g fill="#ea7c1e" stroke="none">
<circle cx="117.9" cy="346.6" r="1.7"/>
<circle cx="119.6" cy="346.6" r="1.35"/>
<circle cx="115.2" cy="354.1" r="1.7"/>
<circle cx="113.9" cy="355.3" r="1.35"/>
<circle cx="128.9" cy="354.8" r="1.7"/>
<circle cx="129.1" cy="353.1" r="1.35"/>
<circle cx="118.6" cy="360.3" r="1.7"/>
<circle cx="119.6" cy="361.7" r="1.35"/>
<circle cx="115.9" cy="366.5" r="1.7"/>
<circle cx="114.2" cy="366.2" r="1.35"/>
<circle cx="115.2" cy="370.6" r="1.7"/>
<circle cx="116.6" cy="369.7" r="1.35"/>
<circle cx="113.1" cy="376.1" r="1.7"/>
<circle cx="112.7" cy="377.8" r="1.35"/>
<circle cx="132.4" cy="373.4" r="1.7"/>
<circle cx="131.6" cy="371.9" r="1.35"/>
<circle cx="120.7" cy="378.9" r="1.7"/>
<circle cx="122.3" cy="379.5" r="1.35"/>
<circle cx="135.1" cy="380.3" r="1.7"/>
<circle cx="133.5" cy="380.9" r="1.35"/>
<circle cx="147.5" cy="385.1" r="1.7"/>
<circle cx="148.2" cy="383.5" r="1.35"/>
<circle cx="150.2" cy="383.7" r="1.7"/>
<circle cx="150.7" cy="385.3" r="1.35"/>
<circle cx="120.7" cy="385.8" r="1.7"/>
<circle cx="119.2" cy="384.9" r="1.35"/>
<circle cx="122.0" cy="389.2" r="1.7"/>
<circle cx="123.7" cy="388.8" r="1.35"/>
<circle cx="125.5" cy="389.9" r="1.7"/>
<circle cx="124.5" cy="391.3" r="1.35"/>
<circle cx="127.5" cy="392.0" r="1.7"/>
<circle cx="127.3" cy="390.3" r="1.35"/>
<circle cx="128.2" cy="394.7" r="1.7"/>
<circle cx="129.5" cy="395.8" r="1.35"/>
<circle cx="115.2" cy="394.0" r="1.7"/>
<circle cx="113.5" cy="394.1" r="1.35"/>
<circle cx="115.9" cy="397.5" r="1.7"/>
<circle cx="117.1" cy="396.3" r="1.35"/>
<circle cx="117.2" cy="401.6" r="1.7"/>
<circle cx="117.1" cy="403.3" r="1.35"/>
<circle cx="166.7" cy="389.9" r="1.7"/>
<circle cx="165.6" cy="388.6" r="1.35"/>
<circle cx="164.7" cy="393.3" r="1.7"/>
<circle cx="166.3" cy="393.6" r="1.35"/>
<circle cx="161.9" cy="396.8" r="1.7"/>
<circle cx="160.5" cy="397.7" r="1.35"/>
<circle cx="166.7" cy="397.5" r="1.7"/>
<circle cx="167.1" cy="395.8" r="1.35"/>
<circle cx="162.6" cy="401.6" r="1.7"/>
<circle cx="163.4" cy="403.1" r="1.35"/>
<circle cx="159.2" cy="404.3" r="1.7"/>
<circle cx="157.5" cy="403.8" r="1.35"/>
<circle cx="168.8" cy="407.1" r="1.7"/>
<circle cx="170.3" cy="406.4" r="1.35"/>
<circle cx="165.4" cy="408.5" r="1.7"/>
<circle cx="164.7" cy="410.0" r="1.35"/>
<circle cx="152.3" cy="403.6" r="1.7"/>
<circle cx="151.7" cy="402.1" r="1.35"/>
<circle cx="156.4" cy="411.9" r="1.7"/>
<circle cx="157.9" cy="412.7" r="1.35"/>
<circle cx="155.0" cy="416.0" r="1.7"/>
<circle cx="153.4" cy="416.5" r="1.35"/>
<circle cx="132.4" cy="408.5" r="1.7"/>
<circle cx="133.3" cy="407.0" r="1.35"/>
<circle cx="136.5" cy="410.5" r="1.7"/>
<circle cx="136.8" cy="412.2" r="1.35"/>
<circle cx="142.0" cy="409.1" r="1.7"/>
<circle cx="140.6" cy="408.1" r="1.35"/>
<circle cx="144.7" cy="411.2" r="1.7"/>
<circle cx="146.4" cy="411.1" r="1.35"/>
<circle cx="124.8" cy="413.3" r="1.7"/>
<circle cx="123.6" cy="414.5" r="1.35"/>
<circle cx="128.9" cy="412.6" r="1.7"/>
<circle cx="128.9" cy="410.9" r="1.35"/>
<circle cx="133.7" cy="414.6" r="1.7"/>
<circle cx="134.9" cy="415.9" r="1.35"/>
<circle cx="139.2" cy="415.3" r="1.7"/>
<circle cx="137.5" cy="415.2" r="1.35"/>
<circle cx="122.0" cy="417.4" r="1.7"/>
<circle cx="123.4" cy="416.4" r="1.35"/>
<circle cx="126.9" cy="418.1" r="1.7"/>
<circle cx="126.5" cy="419.8" r="1.35"/>
<circle cx="132.4" cy="418.8" r="1.7"/>
<circle cx="131.4" cy="417.3" r="1.35"/>
<circle cx="137.2" cy="419.5" r="1.7"/>
<circle cx="138.8" cy="419.9" r="1.35"/>
<circle cx="119.3" cy="420.1" r="1.7"/>
<circle cx="117.8" cy="420.9" r="1.35"/>
<circle cx="124.1" cy="422.2" r="1.7"/>
<circle cx="124.7" cy="420.6" r="1.35"/>
<circle cx="130.3" cy="422.9" r="1.7"/>
<circle cx="130.9" cy="424.5" r="1.35"/>
<circle cx="136.5" cy="424.3" r="1.7"/>
<circle cx="134.9" cy="423.5" r="1.35"/>
<circle cx="142.0" cy="424.3" r="1.7"/>
<circle cx="143.6" cy="423.8" r="1.35"/>
<circle cx="128.2" cy="428.4" r="1.7"/>
<circle cx="127.4" cy="429.9" r="1.35"/>
<circle cx="133.7" cy="427.7" r="1.7"/>
<circle cx="133.4" cy="426.1" r="1.35"/>
<circle cx="139.2" cy="428.4" r="1.7"/>
<circle cx="140.6" cy="429.4" r="1.35"/>
<circle cx="144.7" cy="429.8" r="1.7"/>
<circle cx="143.0" cy="430.0" r="1.35"/>
<circle cx="127.5" cy="432.5" r="1.7"/>
<circle cx="128.6" cy="431.2" r="1.35"/>
<circle cx="132.4" cy="432.5" r="1.7"/>
<circle cx="132.4" cy="434.2" r="1.35"/>
<circle cx="137.9" cy="433.2" r="1.7"/>
<circle cx="136.7" cy="432.0" r="1.35"/>
<circle cx="144.0" cy="434.6" r="1.7"/>
<circle cx="145.7" cy="434.7" r="1.35"/>
<circle cx="148.9" cy="435.3" r="1.7"/>
<circle cx="147.5" cy="436.4" r="1.35"/>
<circle cx="126.9" cy="436.6" r="1.7"/>
<circle cx="127.1" cy="435.0" r="1.35"/>
<circle cx="126.2" cy="439.4" r="1.7"/>
<circle cx="127.1" cy="440.8" r="1.35"/>
<circle cx="131.0" cy="436.0" r="1.7"/>
<circle cx="129.3" cy="435.6" r="1.35"/>
<circle cx="99.4" cy="427.0" r="1.7"/>
<circle cx="100.8" cy="426.2" r="1.35"/>
<circle cx="100.7" cy="431.8" r="1.7"/>
<circle cx="100.2" cy="433.5" r="1.35"/>
<circle cx="98.7" cy="438.0" r="1.7"/>
<circle cx="98.0" cy="436.5" r="1.35"/>
<circle cx="99.4" cy="443.5" r="1.7"/>
<circle cx="100.9" cy="444.2" r="1.35"/>
<circle cx="105.5" cy="443.5" r="1.7"/>
<circle cx="103.9" cy="444.1" r="1.35"/>
<circle cx="104.2" cy="447.6" r="1.7"/>
<circle cx="105.0" cy="446.1" r="1.35"/>
<circle cx="102.1" cy="451.1" r="1.7"/>
<circle cx="102.5" cy="452.7" r="1.35"/>
<circle cx="102.8" cy="455.9" r="1.7"/>
<circle cx="101.4" cy="455.0" r="1.35"/>
<circle cx="102.1" cy="461.4" r="1.7"/>
<circle cx="103.8" cy="461.1" r="1.35"/>
<circle cx="100.7" cy="465.5" r="1.7"/>
<circle cx="99.7" cy="466.9" r="1.35"/>
<circle cx="99.4" cy="471.0" r="1.7"/>
<circle cx="99.2" cy="469.3" r="1.35"/>
<circle cx="130.3" cy="446.3" r="1.7"/>
<circle cx="131.5" cy="447.4" r="1.35"/>
<circle cx="131.7" cy="449.7" r="1.7"/>
<circle cx="130.0" cy="449.7" r="1.35"/>
<circle cx="132.4" cy="454.5" r="1.7"/>
<circle cx="133.6" cy="453.4" r="1.35"/>
<circle cx="136.5" cy="453.8" r="1.7"/>
<circle cx="136.3" cy="455.5" r="1.35"/>
<circle cx="139.2" cy="455.2" r="1.7"/>
<circle cx="138.2" cy="453.9" r="1.35"/>
<circle cx="132.4" cy="458.6" r="1.7"/>
<circle cx="134.0" cy="459.0" r="1.35"/>
<circle cx="137.2" cy="460.0" r="1.7"/>
<circle cx="135.7" cy="460.9" r="1.35"/>
<circle cx="141.3" cy="459.3" r="1.7"/>
<circle cx="141.7" cy="457.7" r="1.35"/>
<circle cx="145.4" cy="461.4" r="1.7"/>
<circle cx="146.2" cy="462.9" r="1.35"/>
<circle cx="135.1" cy="464.8" r="1.7"/>
<circle cx="133.5" cy="464.2" r="1.35"/>
<circle cx="139.2" cy="464.8" r="1.7"/>
<circle cx="140.8" cy="464.2" r="1.35"/>
<circle cx="144.0" cy="464.8" r="1.7"/>
<circle cx="143.3" cy="466.4" r="1.35"/>
<circle cx="135.8" cy="468.3" r="1.7"/>
<circle cx="135.3" cy="466.6" r="1.35"/>
<circle cx="139.9" cy="469.0" r="1.7"/>
<circle cx="141.4" cy="469.8" r="1.35"/>
<circle cx="137.9" cy="472.4" r="1.7"/>
<circle cx="136.2" cy="472.7" r="1.35"/>
<circle cx="150.2" cy="447.6" r="1.7"/>
<circle cx="151.2" cy="446.3" r="1.35"/>
<circle cx="155.0" cy="454.5" r="1.7"/>
<circle cx="155.2" cy="456.2" r="1.35"/>
<circle cx="154.4" cy="458.0" r="1.7"/>
<circle cx="153.1" cy="456.9" r="1.35"/>
<circle cx="150.2" cy="460.7" r="1.7"/>
<circle cx="151.9" cy="460.7" r="1.35"/>
<circle cx="156.4" cy="461.4" r="1.7"/>
<circle cx="155.2" cy="462.6" r="1.35"/>
<circle cx="161.9" cy="464.8" r="1.7"/>
<circle cx="162.0" cy="463.1" r="1.35"/>
<circle cx="158.5" cy="466.9" r="1.7"/>
<circle cx="159.6" cy="468.2" r="1.35"/>
<circle cx="153.7" cy="467.6" r="1.7"/>
<circle cx="152.0" cy="467.3" r="1.35"/>
<circle cx="149.5" cy="471.7" r="1.7"/>
<circle cx="150.9" cy="470.8" r="1.35"/>
<circle cx="155.7" cy="471.0" r="1.7"/>
<circle cx="155.3" cy="472.7" r="1.35"/>
<circle cx="158.5" cy="469.6" r="1.7"/>
<circle cx="157.6" cy="468.2" r="1.35"/>
<circle cx="152.3" cy="477.2" r="1.7"/>
<circle cx="153.9" cy="477.7" r="1.35"/>
<circle cx="157.1" cy="473.8" r="1.7"/>
<circle cx="155.6" cy="474.5" r="1.35"/>
<circle cx="182.5" cy="450.4" r="1.7"/>
<circle cx="183.2" cy="448.8" r="1.35"/>
<circle cx="186.0" cy="450.4" r="1.7"/>
<circle cx="186.5" cy="452.0" r="1.35"/>
<circle cx="190.8" cy="451.1" r="1.7"/>
<circle cx="189.3" cy="450.3" r="1.35"/>
<circle cx="198.4" cy="449.0" r="1.7"/>
<circle cx="200.0" cy="448.6" r="1.35"/>
<circle cx="141.3" cy="484.8" r="1.7"/>
<circle cx="140.4" cy="486.2" r="1.35"/>
<circle cx="139.9" cy="489.6" r="1.7"/>
<circle cx="139.6" cy="487.9" r="1.35"/>
<circle cx="124.8" cy="492.3" r="1.7"/>
<circle cx="126.1" cy="493.4" r="1.35"/>
<circle cx="103.5" cy="249.6" r="1.8"/>
<circle cx="102.8" cy="255.8" r="2.3"/>
<circle cx="113.5" cy="266.1" r="1.6"/>
<circle cx="117.9" cy="269.4" r="1.5"/>
<circle cx="120.7" cy="282.2" r="1.7"/>
<circle cx="122.0" cy="284.9" r="1.7"/>
<circle cx="119.3" cy="287.0" r="1.7"/>
<circle cx="123.4" cy="287.7" r="1.7"/>
<circle cx="120.7" cy="289.7" r="1.7"/>
<circle cx="124.1" cy="291.1" r="1.7"/>
<circle cx="125.5" cy="293.2" r="1.6"/>
<circle cx="117.2" cy="294.8" r="1.6"/>
<circle cx="120.0" cy="291.8" r="1.6"/>
<circle cx="123.4" cy="300.0" r="2.7"/>
<circle cx="122.0" cy="302.8" r="1.8"/>
<circle cx="125.5" cy="299.4" r="1.8"/>
<circle cx="123.0" cy="307.3" r="2.1"/>
<circle cx="113.8" cy="497.8" r="1.6"/>
<circle cx="124.8" cy="492.7" r="1.7"/>
<circle cx="124.1" cy="497.5" r="1.9"/>
<circle cx="123.4" cy="501.7" r="1.8"/>
<circle cx="128.2" cy="505.1" r="1.6"/>
<circle cx="126.9" cy="509.2" r="1.7"/>
<circle cx="140.6" cy="486.5" r="1.7"/>
<circle cx="139.2" cy="490.7" r="1.7"/>
<circle cx="143.4" cy="512.0" r="1.6"/>
<circle cx="144.7" cy="514.0" r="1.6"/>
<circle cx="158.5" cy="511.3" r="1.7"/>
<circle cx="162.6" cy="513.3" r="1.9"/>
<circle cx="161.2" cy="516.8" r="1.8"/>
<circle cx="132.4" cy="523.0" r="1.6"/>
<circle cx="155.7" cy="531.9" r="1.8"/>
<circle cx="159.9" cy="531.2" r="1.8"/>
<circle cx="161.2" cy="528.5" r="1.6"/>
<circle cx="169.5" cy="537.4" r="1.9"/>
<circle cx="173.6" cy="535.3" r="1.9"/>
<circle cx="177.7" cy="531.9" r="1.8"/>
<circle cx="181.2" cy="529.2" r="1.7"/>
<circle cx="190.8" cy="525.0" r="1.7"/>
<circle cx="194.2" cy="522.3" r="1.7"/>
</g>
</g></g>
<g class="ht" transform="translate(1062.63 754.93) scale(0.2880 0.3150)" stroke="#000" stroke-width="1.55"><use href="#h49" x="0"/><use href="#h50" x="20"/><use href="#h83" x="40"/></g>
<g class="ht" transform="translate(1062.63 789.92) scale(0.2880 0.3150)" stroke="#000" stroke-width="1.55"><use href="#h49" x="0"/><use href="#h53" x="20"/><use href="#h83" x="40"/></g>
<g class="ht" transform="translate(1062.63 824.91) scale(0.2880 0.3150)" stroke="#000" stroke-width="1.55"><use href="#h49" x="0"/><use href="#h56" x="20"/><use href="#h83" x="40"/></g>
<g class="ht" transform="translate(1062.63 859.90) scale(0.2880 0.3150)" stroke="#000" stroke-width="1.55"><use href="#h50" x="0"/><use href="#h49" x="20"/><use href="#h83" x="40"/></g>
<g class="ht" transform="translate(1062.63 894.90) scale(0.2880 0.3150)" stroke="#000" stroke-width="1.55"><use href="#h50" x="0"/><use href="#h52" x="20"/><use href="#h83" x="40"/></g>
<g class="ht" transform="translate(1062.63 929.89) scale(0.2880 0.3150)" stroke="#000" stroke-width="1.55"><use href="#h50" x="0"/><use href="#h55" x="20"/><use href="#h83" x="40"/></g>
<g class="ht" transform="translate(1062.63 964.88) scale(0.2880 0.3150)" stroke="#000" stroke-width="1.55"><use href="#h51" x="0"/><use href="#h48" x="20"/><use href="#h83" x="40"/></g>
<g class="ht" transform="translate(1062.63 999.87) scale(0.2880 0.3150)" stroke="#000" stroke-width="1.55"><use href="#h51" x="0"/><use href="#h51" x="20"/><use href="#h83" x="40"/></g>
<g class="ht" transform="translate(1062.63 1034.87) scale(0.2880 0.3150)" stroke="#000" stroke-width="1.55"><use href="#h51" x="0"/><use href="#h54" x="20"/><use href="#h83" x="40"/></g>
<g class="ht" transform="translate(1062.63 1069.86) scale(0.2880 0.3150)" stroke="#000" stroke-width="1.55"><use href="#h51" x="0"/><use href="#h57" x="20"/><use href="#h83" x="40"/></g>
<g class="ht" transform="translate(1062.63 1104.85) scale(0.2880 0.3150)" stroke="#000" stroke-width="1.55"><use href="#h52" x="0"/><use href="#h50" x="20"/><use href="#h83" x="40"/></g>
<g class="ht" transform="translate(1077.10 1113.55) scale(0.2800 0.3080)" stroke="#000" stroke-width="1.55"><use href="#h55" x="0"/><use href="#h48" x="20"/><use href="#h87" x="40"/></g>
<g class="ht" transform="translate(1127.02 1113.55) scale(0.2800 0.3080)" stroke="#000" stroke-width="1.55"><use href="#h54" x="0"/><use href="#h53" x="20"/><use href="#h87" x="40"/></g>
<g class="ht" transform="translate(1177.08 1113.55) scale(0.2800 0.3080)" stroke="#000" stroke-width="1.55"><use href="#h54" x="0"/><use href="#h48" x="20"/><use href="#h87" x="40"/></g>
<g class="ht" transform="translate(1227.28 1113.55) scale(0.2800 0.3080)" stroke="#000" stroke-width="1.55"><use href="#h53" x="0"/><use href="#h53" x="20"/><use href="#h87" x="40"/></g>
<g class="ht" transform="translate(1277.34 1113.55) scale(0.2800 0.3080)" stroke="#000" stroke-width="1.55"><use href="#h53" x="0"/><use href="#h48" x="20"/><use href="#h87" x="40"/></g>
<g class="ht" transform="translate(1327.40 1113.55) scale(0.2800 0.3080)" stroke="#000" stroke-width="1.55"><use href="#h52" x="0"/><use href="#h53" x="20"/><use href="#h87" x="40"/></g>
<g class="ht" transform="translate(1377.46 1113.55) scale(0.2800 0.3080)" stroke="#000" stroke-width="1.55"><use href="#h52" x="0"/><use href="#h48" x="20"/><use href="#h87" x="40"/></g>
<g class="ht" transform="translate(1427.52 1113.55) scale(0.2800 0.3080)" stroke="#000" stroke-width="1.55"><use href="#h51" x="0"/><use href="#h53" x="20"/><use href="#h87" x="40"/></g>
<g class="ht" transform="translate(1477.58 1113.55) scale(0.2800 0.3080)" stroke="#000" stroke-width="1.55"><use href="#h51" x="0"/><use href="#h48" x="20"/><use href="#h87" x="40"/></g>
<path d="M1082.3 751.5H1086.2M1082.3 786.5H1086.2M1082.3 821.5H1086.2M1082.3 856.5H1086.2M1082.3 891.5H1086.2M1082.3 926.5H1086.2M1082.3 961.5H1086.2M1082.3 996.5H1086.2M1082.3 1031.5H1086.2M1082.3 1066.5H1086.2M1082.3 1101.5H1086.2M1086.2 1101.5V1105.4M1136.3 1101.5V1105.4M1186.3 1101.5V1105.4M1236.4 1101.5V1105.4M1286.4 1101.5V1105.4M1336.5 1101.5V1105.4M1386.6 1101.5V1105.4M1436.6 1101.5V1105.4M1486.7 1101.5V1105.4" stroke="#000" stroke-width="1.3" fill="none"/>
<rect x="1086.2" y="728.2" width="420.5" height="373.2" fill="none" stroke="#1c1c1c" stroke-width="1.90"/>
<rect x="97.7" y="568.8" width="416.7" height="48.1" fill="none" stroke="#000" stroke-width="1.5"/>
<g class="ht" transform="translate(112.78 587.70) scale(0.2681 0.2620)" stroke="#000" stroke-width="1.60"><use href="#h91" x="0"/><use href="#h85" x="14"/><use href="#h82" x="36"/><use href="#h62" x="57"/><use href="#h55" x="81"/><use href="#h48" x="101"/><use href="#h40" x="121"/><use href="#h56" x="135"/><use href="#h53" x="155"/><use href="#h48" x="175"/><use href="#h47" x="195"/><use href="#h55" x="217"/><use href="#h48" x="237"/><use href="#h48" x="257"/><use href="#h47" x="277"/><use href="#h53" x="299"/><use href="#h48" x="319"/><use href="#h48" x="339"/><use href="#h41" x="359"/><use href="#h93" x="373"/><use href="#h40" x="387"/><use href="#h97" x="401"/><use href="#h122" x="420"/><use href="#h117" x="437"/><use href="#h108" x="456"/><use href="#h41" x="464"/><use href="#h43" x="478"/><use href="#h91" x="504"/><use href="#h85" x="518"/><use href="#h82" x="540"/><use href="#h62" x="561"/><use href="#h55" x="585"/><use href="#h48" x="605"/><use href="#h40" x="625"/><use href="#h49" x="639"/><use href="#h48" x="659"/><use href="#h48" x="679"/><use href="#h48" x="699"/><use href="#h47" x="719"/><use href="#h56" x="741"/><use href="#h53" x="761"/><use href="#h48" x="781"/><use href="#h41" x="801"/><use href="#h93" x="815"/><use href="#h40" x="829"/><use href="#h118" x="843"/><use href="#h101" x="859"/><use href="#h114" x="877"/><use href="#h100" x="890"/><use href="#h101" x="909"/><use href="#h41" x="927"/><use href="#h43" x="941"/><use href="#h86" x="967"/><use href="#h69" x="985"/><use href="#h78" x="1004"/><use href="#h84" x="1026"/><use href="#h79" x="1042"/><use href="#h62" x="1064"/><use href="#h53" x="1088"/><use href="#h109" x="1108"/><use href="#h47" x="1138"/><use href="#h115" x="1160"/><use href="#h43" x="1177"/><use href="#h69" x="1203"/><use href="#h83" x="1222"/><use href="#h80" x="1242"/><use href="#h40" x="1263"/><use href="#h53" x="1277"/><use href="#h48" x="1297"/><use href="#h48" x="1317"/><use href="#h47" x="1337"/><use href="#h49" x="1359"/><use href="#h48" x="1379"/><use href="#h48" x="1399"/><use href="#h48" x="1419"/><use href="#h41" x="1439"/></g>
<rect x="592.4" y="568.8" width="416.1" height="48.1" fill="none" stroke="#000" stroke-width="1.5"/>
<g class="ht" transform="translate(670.98 587.70) scale(0.2681 0.2620)" stroke="#000" stroke-width="1.60"><use href="#h91" x="0"/><use href="#h75" x="14"/><use href="#h62" x="35"/><use href="#h51" x="59"/><use href="#h48" x="79"/><use href="#h43" x="99"/><use href="#h84" x="125"/><use href="#h84" x="141"/><use href="#h83" x="157"/><use href="#h62" x="177"/><use href="#h52" x="201"/><use href="#h53" x="221"/><use href="#h93" x="241"/><use href="#h40" x="255"/><use href="#h118" x="269"/><use href="#h101" x="285"/><use href="#h114" x="303"/><use href="#h100" x="316"/><use href="#h101" x="335"/><use href="#h41" x="353"/><use href="#h43" x="385"/><use href="#h91" x="429"/><use href="#h75" x="443"/><use href="#h62" x="464"/><use href="#h51" x="488"/><use href="#h48" x="508"/><use href="#h43" x="528"/><use href="#h84" x="554"/><use href="#h84" x="570"/><use href="#h83" x="586"/><use href="#h62" x="606"/><use href="#h52" x="630"/><use href="#h53" x="650"/><use href="#h43" x="670"/><use href="#h76" x="696"/><use href="#h73" x="713"/><use href="#h60" x="721"/><use href="#h45" x="745"/><use href="#h49" x="771"/><use href="#h93" x="791"/><use href="#h40" x="805"/><use href="#h118" x="819"/><use href="#h101" x="835"/><use href="#h114" x="853"/><use href="#h109" x="866"/><use href="#h101" x="896"/><use href="#h108" x="914"/><use href="#h104" x="922"/><use href="#h111" x="941"/><use href="#h41" x="960"/></g>
<g class="ht" transform="translate(710.88 600.10) scale(0.2680 0.2620)" stroke="#000" stroke-width="1.60"><use href="#h91" x="0"/><use href="#h76" x="14"/><use href="#h73" x="31"/><use href="#h70" x="39"/><use href="#h93" x="57"/><use href="#h40" x="71"/><use href="#h99" x="85"/><use href="#h111" x="103"/><use href="#h110" x="122"/><use href="#h116" x="141"/><use href="#h46" x="153"/><use href="#h97" x="163"/><use href="#h122" x="182"/><use href="#h117" x="199"/><use href="#h108" x="218"/><use href="#h41" x="226"/><use href="#h43" x="258"/><use href="#h91" x="302"/><use href="#h72" x="316"/><use href="#h71" x="338"/><use href="#h84" x="359"/><use href="#h40" x="375"/><use href="#h51" x="389"/><use href="#h48" x="409"/><use href="#h48" x="429"/><use href="#h41" x="449"/><use href="#h93" x="463"/><use href="#h40" x="477"/><use href="#h108" x="491"/><use href="#h105" x="499"/><use href="#h110" x="507"/><use href="#h104" x="526"/><use href="#h97" x="545"/><use href="#h112" x="582"/><use href="#h114" x="601"/><use href="#h101" x="614"/><use href="#h116" x="632"/><use href="#h97" x="644"/><use href="#h41" x="663"/></g>
<rect x="1086.9" y="568.8" width="416.6" height="48.1" fill="none" stroke="#000" stroke-width="1.5"/>
<g class="ht" transform="translate(1101.38 587.70) scale(0.2672 0.2620)" stroke="#000" stroke-width="1.60"><use href="#h91" x="0"/><use href="#h79" x="14"/><use href="#h77" x="36"/><use href="#h69" x="60"/><use href="#h71" x="79"/><use href="#h65" x="100"/><use href="#h40" x="118"/><use href="#h45" x="132"/><use href="#h48" x="158"/><use href="#h46" x="178"/><use href="#h48" x="188"/><use href="#h48" x="208"/><use href="#h49" x="228"/><use href="#h41" x="248"/><use href="#h45" x="262"/><use href="#h40" x="288"/><use href="#h97" x="302"/><use href="#h122" x="321"/><use href="#h117" x="338"/><use href="#h108" x="357"/><use href="#h41" x="365"/><use href="#h43" x="379"/><use href="#h79" x="405"/><use href="#h77" x="427"/><use href="#h69" x="451"/><use href="#h71" x="470"/><use href="#h65" x="491"/><use href="#h40" x="509"/><use href="#h45" x="523"/><use href="#h48" x="549"/><use href="#h46" x="569"/><use href="#h51" x="579"/><use href="#h41" x="599"/><use href="#h45" x="613"/><use href="#h40" x="639"/><use href="#h118" x="653"/><use href="#h101" x="669"/><use href="#h114" x="687"/><use href="#h100" x="700"/><use href="#h101" x="719"/><use href="#h41" x="737"/><use href="#h43" x="751"/><use href="#h85" x="777"/><use href="#h82" x="799"/><use href="#h62" x="820"/><use href="#h55" x="844"/><use href="#h48" x="864"/><use href="#h40" x="884"/><use href="#h49" x="898"/><use href="#h48" x="918"/><use href="#h48" x="938"/><use href="#h48" x="958"/><use href="#h47" x="978"/><use href="#h56" x="1000"/><use href="#h53" x="1020"/><use href="#h48" x="1040"/><use href="#h47" x="1060"/><use href="#h55" x="1082"/><use href="#h48" x="1102"/><use href="#h48" x="1122"/><use href="#h47" x="1142"/><use href="#h53" x="1164"/><use href="#h48" x="1184"/><use href="#h48" x="1204"/><use href="#h41" x="1224"/><use href="#h93" x="1238"/><use href="#h43" x="1270"/><use href="#h72" x="1314"/><use href="#h71" x="1336"/><use href="#h84" x="1357"/><use href="#h40" x="1373"/><use href="#h53" x="1387"/><use href="#h48" x="1407"/><use href="#h48" x="1427"/><use href="#h41" x="1447"/></g>
<g class="ht" transform="translate(1173.38 600.10) scale(0.2687 0.2620)" stroke="#000" stroke-width="1.60"><use href="#h91" x="0"/><use href="#h79" x="14"/><use href="#h77" x="36"/><use href="#h69" x="60"/><use href="#h71" x="79"/><use href="#h65" x="100"/><use href="#h40" x="118"/><use href="#h45" x="132"/><use href="#h48" x="158"/><use href="#h46" x="178"/><use href="#h48" x="188"/><use href="#h49" x="208"/><use href="#h41" x="228"/><use href="#h95" x="242"/><use href="#h85" x="260"/><use href="#h82" x="282"/><use href="#h62" x="303"/><use href="#h53" x="327"/><use href="#h48" x="347"/><use href="#h40" x="367"/><use href="#h49" x="381"/><use href="#h48" x="401"/><use href="#h48" x="421"/><use href="#h48" x="441"/><use href="#h47" x="461"/><use href="#h56" x="483"/><use href="#h53" x="503"/><use href="#h48" x="523"/><use href="#h41" x="543"/><use href="#h40" x="557"/><use href="#h118" x="571"/><use href="#h101" x="587"/><use href="#h114" x="605"/><use href="#h109" x="618"/><use href="#h101" x="648"/><use href="#h108" x="666"/><use href="#h104" x="674"/><use href="#h111" x="693"/><use href="#h41" x="712"/><use href="#h43" x="744"/><use href="#h76" x="788"/><use href="#h67" x="805"/><use href="#h40" x="826"/><use href="#h53" x="840"/><use href="#h48" x="860"/><use href="#h48" x="880"/><use href="#h41" x="900"/></g>
<rect x="97.7" y="1119.1" width="416.7" height="48.1" fill="none" stroke="#000" stroke-width="1.5"/>
<g class="ht" transform="translate(118.28 1137.70) scale(0.2677 0.2620)" stroke="#000" stroke-width="1.60"><use href="#h91" x="0"/><use href="#h79" x="14"/><use href="#h77" x="36"/><use href="#h69" x="60"/><use href="#h71" x="79"/><use href="#h65" x="100"/><use href="#h40" x="118"/><use href="#h45" x="132"/><use href="#h48" x="158"/><use href="#h46" x="178"/><use href="#h48" x="188"/><use href="#h48" x="208"/><use href="#h49" x="228"/><use href="#h41" x="248"/><use href="#h43" x="280"/><use href="#h85" x="324"/><use href="#h82" x="346"/><use href="#h62" x="367"/><use href="#h55" x="391"/><use href="#h48" x="411"/><use href="#h40" x="431"/><use href="#h49" x="445"/><use href="#h48" x="465"/><use href="#h48" x="485"/><use href="#h48" x="505"/><use href="#h45" x="525"/><use href="#h53" x="551"/><use href="#h48" x="571"/><use href="#h48" x="591"/><use href="#h41" x="611"/><use href="#h43" x="643"/><use href="#h107" x="687"/><use href="#h62" x="704"/><use href="#h51" x="728"/><use href="#h48" x="748"/><use href="#h95" x="768"/><use href="#h84" x="786"/><use href="#h84" x="802"/><use href="#h83" x="818"/><use href="#h62" x="838"/><use href="#h52" x="862"/><use href="#h53" x="882"/><use href="#h43" x="902"/><use href="#h76" x="928"/><use href="#h73" x="945"/><use href="#h70" x="953"/><use href="#h60" x="971"/><use href="#h45" x="995"/><use href="#h49" x="1021"/><use href="#h93" x="1041"/><use href="#h40" x="1055"/><use href="#h118" x="1069"/><use href="#h101" x="1085"/><use href="#h114" x="1103"/><use href="#h109" x="1116"/><use href="#h101" x="1146"/><use href="#h108" x="1164"/><use href="#h104" x="1172"/><use href="#h111" x="1191"/><use href="#h41" x="1210"/><use href="#h43" x="1242"/><use href="#h76" x="1286"/><use href="#h67" x="1303"/><use href="#h40" x="1324"/><use href="#h50" x="1338"/><use href="#h53" x="1358"/><use href="#h48" x="1378"/><use href="#h41" x="1398"/></g>
<g class="ht" transform="translate(120.98 1150.10) scale(0.2684 0.2620)" stroke="#000" stroke-width="1.60"><use href="#h91" x="0"/><use href="#h79" x="14"/><use href="#h77" x="36"/><use href="#h69" x="60"/><use href="#h71" x="79"/><use href="#h65" x="100"/><use href="#h40" x="118"/><use href="#h45" x="132"/><use href="#h48" x="158"/><use href="#h46" x="178"/><use href="#h48" x="188"/><use href="#h48" x="208"/><use href="#h49" x="228"/><use href="#h41" x="248"/><use href="#h43" x="280"/><use href="#h85" x="324"/><use href="#h82" x="346"/><use href="#h62" x="367"/><use href="#h55" x="391"/><use href="#h48" x="411"/><use href="#h40" x="431"/><use href="#h49" x="445"/><use href="#h48" x="465"/><use href="#h48" x="485"/><use href="#h48" x="505"/><use href="#h45" x="525"/><use href="#h53" x="551"/><use href="#h48" x="571"/><use href="#h48" x="591"/><use href="#h41" x="611"/><use href="#h43" x="643"/><use href="#h107" x="687"/><use href="#h62" x="704"/><use href="#h51" x="728"/><use href="#h48" x="748"/><use href="#h95" x="768"/><use href="#h84" x="786"/><use href="#h84" x="802"/><use href="#h83" x="818"/><use href="#h62" x="838"/><use href="#h52" x="862"/><use href="#h53" x="882"/><use href="#h93" x="902"/><use href="#h40" x="916"/><use href="#h108" x="930"/><use href="#h97" x="938"/><use href="#h114" x="957"/><use href="#h97" x="970"/><use href="#h110" x="989"/><use href="#h106" x="1008"/><use href="#h97" x="1018"/><use href="#h41" x="1037"/><use href="#h43" x="1069"/><use href="#h91" x="1113"/><use href="#h68" x="1127"/><use href="#h73" x="1148"/><use href="#h86" x="1156"/><use href="#h71" x="1174"/><use href="#h40" x="1195"/><use href="#h50" x="1209"/><use href="#h53" x="1229"/><use href="#h48" x="1249"/><use href="#h41" x="1269"/><use href="#h93" x="1283"/><use href="#h40" x="1297"/><use href="#h97" x="1311"/><use href="#h122" x="1330"/><use href="#h117" x="1347"/><use href="#h108" x="1366"/><use href="#h41" x="1374"/></g>
<rect x="586.0" y="1119.1" width="432.7" height="48.1" fill="none" stroke="#000" stroke-width="1.5"/>
<g class="ht" transform="translate(593.68 1137.70) scale(0.2680 0.2620)" stroke="#000" stroke-width="1.60"><use href="#h91" x="0"/><use href="#h79" x="14"/><use href="#h77" x="36"/><use href="#h69" x="60"/><use href="#h71" x="79"/><use href="#h65" x="100"/><use href="#h40" x="118"/><use href="#h45" x="132"/><use href="#h48" x="158"/><use href="#h46" x="178"/><use href="#h48" x="188"/><use href="#h48" x="208"/><use href="#h49" x="228"/><use href="#h41" x="248"/><use href="#h43" x="262"/><use href="#h85" x="288"/><use href="#h82" x="310"/><use href="#h62" x="331"/><use href="#h55" x="355"/><use href="#h48" x="375"/><use href="#h40" x="395"/><use href="#h49" x="409"/><use href="#h48" x="429"/><use href="#h48" x="449"/><use href="#h48" x="469"/><use href="#h45" x="489"/><use href="#h53" x="515"/><use href="#h48" x="535"/><use href="#h48" x="555"/><use href="#h41" x="575"/><use href="#h43" x="589"/><use href="#h107" x="615"/><use href="#h62" x="632"/><use href="#h51" x="656"/><use href="#h53" x="676"/><use href="#h95" x="696"/><use href="#h84" x="714"/><use href="#h84" x="730"/><use href="#h83" x="746"/><use href="#h62" x="766"/><use href="#h53" x="790"/><use href="#h48" x="810"/><use href="#h43" x="830"/><use href="#h76" x="856"/><use href="#h73" x="873"/><use href="#h70" x="881"/><use href="#h60" x="899"/><use href="#h45" x="923"/><use href="#h52" x="949"/><use href="#h93" x="969"/><use href="#h40" x="983"/><use href="#h114" x="997"/><use href="#h111" x="1010"/><use href="#h120" x="1029"/><use href="#h111" x="1046"/><use href="#h41" x="1065"/><use href="#h43" x="1079"/><use href="#h91" x="1105"/><use href="#h86" x="1119"/><use href="#h101" x="1137"/><use href="#h110" x="1155"/><use href="#h116" x="1174"/><use href="#h111" x="1186"/><use href="#h40" x="1205"/><use href="#h56" x="1219"/><use href="#h53" x="1239"/><use href="#h48" x="1259"/><use href="#h41" x="1279"/><use href="#h62" x="1293"/><use href="#h49" x="1317"/><use href="#h48" x="1337"/><use href="#h109" x="1357"/><use href="#h47" x="1387"/><use href="#h115" x="1409"/><use href="#h93" x="1426"/><use href="#h40" x="1440"/><use href="#h118" x="1454"/><use href="#h101" x="1470"/><use href="#h114" x="1488"/><use href="#h100" x="1501"/><use href="#h101" x="1520"/><use href="#h41" x="1538"/></g>
<g class="ht" transform="translate(588.98 1150.10) scale(0.2677 0.2620)" stroke="#000" stroke-width="1.60"><use href="#h91" x="0"/><use href="#h67" x="14"/><use href="#h74" x="35"/><use href="#h40" x="51"/><use href="#h50" x="65"/><use href="#h53" x="85"/><use href="#h48" x="105"/><use href="#h41" x="125"/><use href="#h62" x="139"/><use href="#h51" x="163"/><use href="#h48" x="183"/><use href="#h109" x="203"/><use href="#h47" x="233"/><use href="#h115" x="255"/><use href="#h93" x="272"/><use href="#h40" x="286"/><use href="#h97" x="300"/><use href="#h109" x="319"/><use href="#h97" x="349"/><use href="#h114" x="368"/><use href="#h101" x="381"/><use href="#h108" x="399"/><use href="#h111" x="407"/><use href="#h41" x="426"/><use href="#h43" x="440"/><use href="#h91" x="466"/><use href="#h65" x="480"/><use href="#h103" x="498"/><use href="#h117" x="517"/><use href="#h97" x="536"/><use href="#h95" x="555"/><use href="#h80" x="573"/><use href="#h40" x="594"/><use href="#h52" x="608"/><use href="#h48" x="628"/><use href="#h45" x="648"/><use href="#h54" x="674"/><use href="#h48" x="694"/><use href="#h109" x="714"/><use href="#h109" x="744"/><use href="#h41" x="774"/><use href="#h93" x="788"/><use href="#h40" x="802"/><use href="#h118" x="816"/><use href="#h101" x="832"/><use href="#h114" x="850"/><use href="#h109" x="863"/><use href="#h101" x="893"/><use href="#h108" x="911"/><use href="#h104" x="919"/><use href="#h111" x="938"/><use href="#h41" x="957"/><use href="#h43" x="971"/><use href="#h76" x="997"/><use href="#h67" x="1014"/><use href="#h40" x="1035"/><use href="#h56" x="1049"/><use href="#h53" x="1069"/><use href="#h48" x="1089"/><use href="#h41" x="1109"/><use href="#h43" x="1123"/><use href="#h91" x="1149"/><use href="#h86" x="1163"/><use href="#h101" x="1181"/><use href="#h110" x="1199"/><use href="#h116" x="1218"/><use href="#h111" x="1230"/><use href="#h40" x="1249"/><use href="#h56" x="1263"/><use href="#h53" x="1283"/><use href="#h48" x="1303"/><use href="#h41" x="1323"/><use href="#h62" x="1337"/><use href="#h49" x="1361"/><use href="#h53" x="1381"/><use href="#h109" x="1401"/><use href="#h47" x="1431"/><use href="#h115" x="1453"/><use href="#h93" x="1470"/><use href="#h40" x="1484"/><use href="#h118" x="1498"/><use href="#h101" x="1514"/><use href="#h116" x="1532"/><use href="#h111" x="1544"/><use href="#h114" x="1563"/><use href="#h41" x="1576"/></g>
<rect x="1086.9" y="1119.1" width="416.6" height="48.1" fill="none" stroke="#000" stroke-width="1.5"/>
<g class="ht" transform="translate(1106.88 1137.70) scale(0.2679 0.2620)" stroke="#000" stroke-width="1.60"><use href="#h91" x="0"/><use href="#h79" x="14"/><use href="#h77" x="36"/><use href="#h69" x="60"/><use href="#h71" x="79"/><use href="#h65" x="100"/><use href="#h40" x="118"/><use href="#h45" x="132"/><use href="#h48" x="158"/><use href="#h46" x="178"/><use href="#h48" x="188"/><use href="#h48" x="208"/><use href="#h49" x="228"/><use href="#h41" x="248"/><use href="#h43" x="262"/><use href="#h85" x="288"/><use href="#h82" x="310"/><use href="#h62" x="331"/><use href="#h55" x="355"/><use href="#h48" x="375"/><use href="#h40" x="395"/><use href="#h49" x="409"/><use href="#h48" x="429"/><use href="#h48" x="449"/><use href="#h48" x="469"/><use href="#h45" x="489"/><use href="#h53" x="515"/><use href="#h48" x="535"/><use href="#h48" x="555"/><use href="#h41" x="575"/><use href="#h43" x="589"/><use href="#h107" x="615"/><use href="#h60" x="632"/><use href="#h54" x="656"/><use href="#h48" x="676"/><use href="#h43" x="696"/><use href="#h84" x="722"/><use href="#h84" x="738"/><use href="#h83" x="754"/><use href="#h62" x="774"/><use href="#h53" x="798"/><use href="#h50" x="818"/><use href="#h43" x="838"/><use href="#h86" x="864"/><use href="#h84" x="882"/><use href="#h62" x="898"/><use href="#h50" x="922"/><use href="#h53" x="942"/><use href="#h43" x="962"/><use href="#h83" x="988"/><use href="#h87" x="1008"/><use href="#h69" x="1032"/><use href="#h65" x="1051"/><use href="#h84" x="1069"/><use href="#h62" x="1085"/><use href="#h50" x="1109"/><use href="#h50" x="1129"/><use href="#h48" x="1149"/><use href="#h43" x="1169"/><use href="#h76" x="1195"/><use href="#h73" x="1212"/><use href="#h70" x="1220"/><use href="#h60" x="1238"/><use href="#h45" x="1262"/><use href="#h50" x="1288"/><use href="#h93" x="1308"/><use href="#h40" x="1322"/><use href="#h97" x="1336"/><use href="#h122" x="1355"/><use href="#h117" x="1372"/><use href="#h108" x="1391"/><use href="#h41" x="1399"/></g>
<g class="ht" transform="translate(1139.88 1150.10) scale(0.2676 0.2620)" stroke="#000" stroke-width="1.60"><use href="#h91" x="0"/><use href="#h84" x="14"/><use href="#h101" x="30"/><use href="#h109" x="48"/><use href="#h112" x="78"/><use href="#h40" x="97"/><use href="#h53" x="111"/><use href="#h48" x="131"/><use href="#h48" x="151"/><use href="#h41" x="171"/><use href="#h93" x="185"/><use href="#h40" x="199"/><use href="#h112" x="213"/><use href="#h114" x="232"/><use href="#h101" x="245"/><use href="#h116" x="263"/><use href="#h111" x="275"/><use href="#h41" x="294"/><use href="#h43" x="326"/><use href="#h91" x="370"/><use href="#h84" x="384"/><use href="#h101" x="400"/><use href="#h109" x="418"/><use href="#h112" x="448"/><use href="#h40" x="467"/><use href="#h56" x="481"/><use href="#h53" x="501"/><use href="#h48" x="521"/><use href="#h41" x="541"/><use href="#h93" x="555"/><use href="#h40" x="569"/><use href="#h118" x="583"/><use href="#h101" x="599"/><use href="#h114" x="617"/><use href="#h100" x="630"/><use href="#h101" x="649"/><use href="#h41" x="667"/><use href="#h43" x="699"/><use href="#h91" x="743"/><use href="#h79" x="757"/><use href="#h77" x="779"/><use href="#h69" x="803"/><use href="#h71" x="822"/><use href="#h65" x="843"/><use href="#h40" x="861"/><use href="#h53" x="875"/><use href="#h48" x="895"/><use href="#h48" x="915"/><use href="#h41" x="935"/><use href="#h60" x="949"/><use href="#h45" x="973"/><use href="#h50" x="999"/><use href="#h93" x="1019"/><use href="#h40" x="1033"/><use href="#h108" x="1047"/><use href="#h97" x="1055"/><use href="#h114" x="1074"/><use href="#h97" x="1087"/><use href="#h110" x="1106"/><use href="#h106" x="1125"/><use href="#h97" x="1135"/><use href="#h41" x="1154"/></g>
</svg>
</body></html>
